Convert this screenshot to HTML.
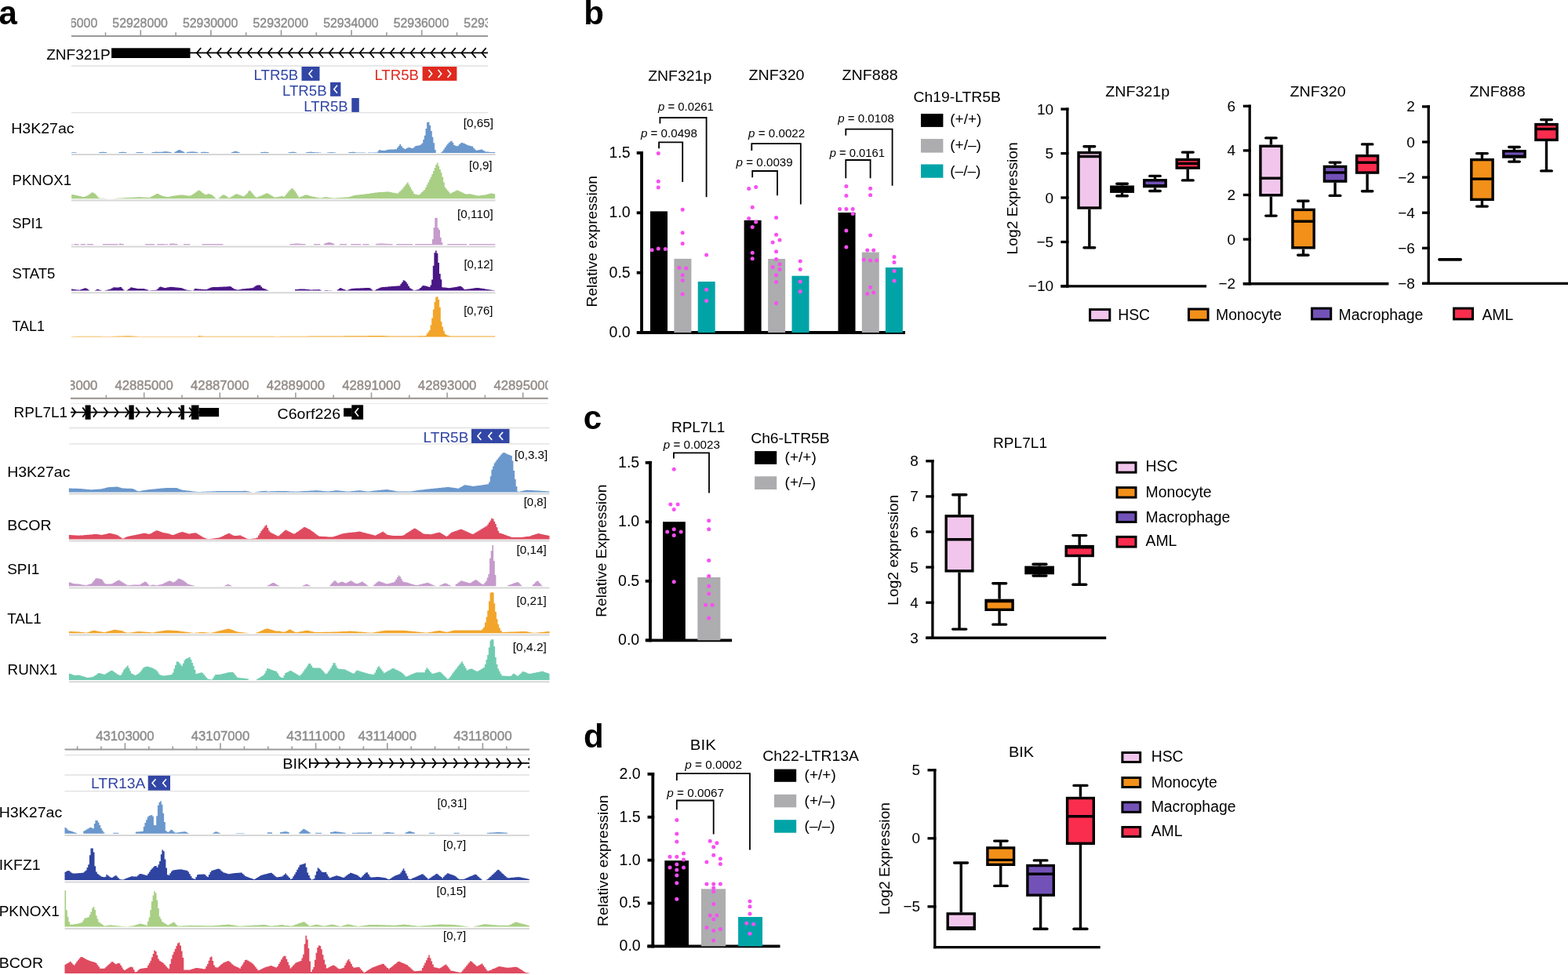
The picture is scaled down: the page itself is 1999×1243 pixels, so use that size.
<!DOCTYPE html>
<html><head><meta charset="utf-8"><title>Figure</title>
<style>
html,body{margin:0;padding:0;background:#fff;}
svg{display:block;}
text{font-family:"Liberation Sans", Arial, Helvetica, sans-serif;}
.rl{filter:blur(0.45px);}
</style></head><body>
<svg width="1999" height="1243" viewBox="0 0 1999 1243">
<rect width="1999" height="1243" fill="#fff"/>
<text x="-1.5" y="31" font-size="42" font-weight="bold">a</text>
<clipPath id="clip1"><rect x="91" y="0" width="531" height="60"/></clipPath><g clip-path="url(#clip1)"><text x="89" y="34.6" font-size="17.3" fill="#8c8c8c" text-anchor="middle" textLength="70.5" lengthAdjust="spacingAndGlyphs" class="rl" stroke="#8c8c8c" stroke-width="0.45">52926000</text><text x="178.6" y="34.6" font-size="17.3" fill="#8c8c8c" text-anchor="middle" textLength="70.5" lengthAdjust="spacingAndGlyphs" class="rl" stroke="#8c8c8c" stroke-width="0.45">52928000</text><text x="268.2" y="34.6" font-size="17.3" fill="#8c8c8c" text-anchor="middle" textLength="70.5" lengthAdjust="spacingAndGlyphs" class="rl" stroke="#8c8c8c" stroke-width="0.45">52930000</text><text x="357.8" y="34.6" font-size="17.3" fill="#8c8c8c" text-anchor="middle" textLength="70.5" lengthAdjust="spacingAndGlyphs" class="rl" stroke="#8c8c8c" stroke-width="0.45">52932000</text><text x="447.4" y="34.6" font-size="17.3" fill="#8c8c8c" text-anchor="middle" textLength="70.5" lengthAdjust="spacingAndGlyphs" class="rl" stroke="#8c8c8c" stroke-width="0.45">52934000</text><text x="537" y="34.6" font-size="17.3" fill="#8c8c8c" text-anchor="middle" textLength="70.5" lengthAdjust="spacingAndGlyphs" class="rl" stroke="#8c8c8c" stroke-width="0.45">52936000</text><text x="626.6" y="34.6" font-size="17.3" fill="#8c8c8c" text-anchor="middle" textLength="70.5" lengthAdjust="spacingAndGlyphs" class="rl" stroke="#8c8c8c" stroke-width="0.45">52938000</text></g><line x1="91" y1="46" x2="622" y2="46" stroke="#9a9a9a" stroke-width="2.2"/><line x1="134.5" y1="41.3" x2="134.5" y2="46" stroke="#9a9a9a" stroke-width="1.6"/><line x1="179.3" y1="38.2" x2="179.3" y2="46" stroke="#9a9a9a" stroke-width="1.6"/><line x1="224.1" y1="41.3" x2="224.1" y2="46" stroke="#9a9a9a" stroke-width="1.6"/><line x1="268.9" y1="38.2" x2="268.9" y2="46" stroke="#9a9a9a" stroke-width="1.6"/><line x1="313.7" y1="41.3" x2="313.7" y2="46" stroke="#9a9a9a" stroke-width="1.6"/><line x1="358.5" y1="38.2" x2="358.5" y2="46" stroke="#9a9a9a" stroke-width="1.6"/><line x1="403.3" y1="41.3" x2="403.3" y2="46" stroke="#9a9a9a" stroke-width="1.6"/><line x1="448.1" y1="38.2" x2="448.1" y2="46" stroke="#9a9a9a" stroke-width="1.6"/><line x1="492.9" y1="41.3" x2="492.9" y2="46" stroke="#9a9a9a" stroke-width="1.6"/><line x1="537.7" y1="38.2" x2="537.7" y2="46" stroke="#9a9a9a" stroke-width="1.6"/><line x1="582.5" y1="41.3" x2="582.5" y2="46" stroke="#9a9a9a" stroke-width="1.6"/><text x="59.2" y="76.2" font-size="19" textLength="81.6" lengthAdjust="spacingAndGlyphs">ZNF321P</text><rect x="142.1" y="61.3" width="100.4" height="12.7" fill="#000"/><line x1="242" y1="67.4" x2="622" y2="67.4" stroke="#000" stroke-width="1.8"/><path d="M256.2,61.1 L250.8,67.4 L256.2,73.7" fill="none" stroke="#000" stroke-width="1.7"/><path d="M269.18,61.1 L263.78,67.4 L269.18,73.7" fill="none" stroke="#000" stroke-width="1.7"/><path d="M282.16,61.1 L276.76,67.4 L282.16,73.7" fill="none" stroke="#000" stroke-width="1.7"/><path d="M295.14,61.1 L289.74,67.4 L295.14,73.7" fill="none" stroke="#000" stroke-width="1.7"/><path d="M308.12,61.1 L302.72,67.4 L308.12,73.7" fill="none" stroke="#000" stroke-width="1.7"/><path d="M321.1,61.1 L315.7,67.4 L321.1,73.7" fill="none" stroke="#000" stroke-width="1.7"/><path d="M334.08,61.1 L328.68,67.4 L334.08,73.7" fill="none" stroke="#000" stroke-width="1.7"/><path d="M347.06,61.1 L341.66,67.4 L347.06,73.7" fill="none" stroke="#000" stroke-width="1.7"/><path d="M360.04,61.1 L354.64,67.4 L360.04,73.7" fill="none" stroke="#000" stroke-width="1.7"/><path d="M373.02,61.1 L367.62,67.4 L373.02,73.7" fill="none" stroke="#000" stroke-width="1.7"/><path d="M386,61.1 L380.6,67.4 L386,73.7" fill="none" stroke="#000" stroke-width="1.7"/><path d="M398.98,61.1 L393.58,67.4 L398.98,73.7" fill="none" stroke="#000" stroke-width="1.7"/><path d="M411.96,61.1 L406.56,67.4 L411.96,73.7" fill="none" stroke="#000" stroke-width="1.7"/><path d="M424.94,61.1 L419.54,67.4 L424.94,73.7" fill="none" stroke="#000" stroke-width="1.7"/><path d="M437.92,61.1 L432.52,67.4 L437.92,73.7" fill="none" stroke="#000" stroke-width="1.7"/><path d="M450.9,61.1 L445.5,67.4 L450.9,73.7" fill="none" stroke="#000" stroke-width="1.7"/><path d="M463.88,61.1 L458.48,67.4 L463.88,73.7" fill="none" stroke="#000" stroke-width="1.7"/><path d="M476.86,61.1 L471.46,67.4 L476.86,73.7" fill="none" stroke="#000" stroke-width="1.7"/><path d="M489.84,61.1 L484.44,67.4 L489.84,73.7" fill="none" stroke="#000" stroke-width="1.7"/><path d="M502.82,61.1 L497.42,67.4 L502.82,73.7" fill="none" stroke="#000" stroke-width="1.7"/><path d="M515.8,61.1 L510.4,67.4 L515.8,73.7" fill="none" stroke="#000" stroke-width="1.7"/><path d="M528.78,61.1 L523.38,67.4 L528.78,73.7" fill="none" stroke="#000" stroke-width="1.7"/><path d="M541.76,61.1 L536.36,67.4 L541.76,73.7" fill="none" stroke="#000" stroke-width="1.7"/><path d="M554.74,61.1 L549.34,67.4 L554.74,73.7" fill="none" stroke="#000" stroke-width="1.7"/><path d="M567.72,61.1 L562.32,67.4 L567.72,73.7" fill="none" stroke="#000" stroke-width="1.7"/><path d="M580.7,61.1 L575.3,67.4 L580.7,73.7" fill="none" stroke="#000" stroke-width="1.7"/><path d="M593.68,61.1 L588.28,67.4 L593.68,73.7" fill="none" stroke="#000" stroke-width="1.7"/><path d="M606.66,61.1 L601.26,67.4 L606.66,73.7" fill="none" stroke="#000" stroke-width="1.7"/><path d="M619.64,61.1 L614.24,67.4 L619.64,73.7" fill="none" stroke="#000" stroke-width="1.7"/><line x1="91" y1="84" x2="622" y2="84" stroke="#e0e0e0" stroke-width="1.3"/><line x1="91" y1="143.7" x2="622" y2="143.7" stroke="#e0e0e0" stroke-width="1.3"/><text x="323.5" y="102" font-size="19" fill="#3246a6" textLength="56.8" lengthAdjust="spacingAndGlyphs">LTR5B</text><rect x="384.5" y="85" width="23" height="17.9" fill="#3246a6"/><path d="M398.2,88.9 L394,93.9 L398.2,98.9" fill="none" stroke="#fff" stroke-width="1.6"/><text x="359.9" y="122.4" font-size="19" fill="#3246a6" textLength="56.8" lengthAdjust="spacingAndGlyphs">LTR5B</text><rect x="421.1" y="104.9" width="13.3" height="17.9" fill="#3246a6"/><path d="M430,108.8 L425.8,113.8 L430,118.8" fill="none" stroke="#fff" stroke-width="1.6"/><text x="387.3" y="142" font-size="19" fill="#3246a6" textLength="56.4" lengthAdjust="spacingAndGlyphs">LTR5B</text><rect x="448.3" y="125" width="9.5" height="17.9" fill="#3246a6"/><text x="477.4" y="102" font-size="19" fill="#e0291f" textLength="56.5" lengthAdjust="spacingAndGlyphs">LTR5B</text><rect x="538.6" y="85" width="43.8" height="17.9" fill="#e0291f"/><path d="M546.5,88.9 L550.7,93.9 L546.5,98.9" fill="none" stroke="#fff" stroke-width="1.6"/><path d="M558.5,88.9 L562.7,93.9 L558.5,98.9" fill="none" stroke="#fff" stroke-width="1.6"/><path d="M570.5,88.9 L574.7,93.9 L570.5,98.9" fill="none" stroke="#fff" stroke-width="1.6"/><path d="M91.21 194.9V194.2H92.8V194.2H94.4V194.2H95.9V194.2H97.5V194.9ZM126.22 194.9V194.0H127.9V193.9H129.5V193.8H131.1V193.8H132.8V193.9H134.4V194.0H136.0V194.9ZM151.44 194.9V194.0H153.1V193.9H154.7V193.8H156.3V193.8H158.0V193.9H159.6V194.0H161.2V194.9ZM173.15 194.9V194.2H174.8V194.1H176.4V194.1H178.1V194.1H179.7V194.1H181.3V194.2H183.0V194.9ZM193.46 194.9V194.0H195.1V193.9H196.8V193.7H198.5V193.6H200.2V193.7H201.9V193.7H203.5V193.8H205.2V193.7H206.9V193.4H208.6V193.2H210.3V193.0H212.0V193.3H213.6V193.6H215.3V193.8H217.0V194.0H218.7V194.9ZM222.18 194.9V193.7H223.8V193.0H225.5V192.1H227.2V191.0H228.8V191.3H230.5V192.2H232.2V193.0H233.8V193.7H235.5V194.9ZM237.59 194.9V194.0H239.2V193.8H240.9V193.6H242.5V193.4H244.1V193.3H245.8V193.4H247.4V193.6H249.0V193.8H250.7V194.0H252.3V194.9ZM255.79 194.9V194.0H257.5V193.8H259.3V193.7H261.0V193.7H262.8V193.9H264.5V194.0H266.3V194.9ZM295.02 194.9V194.0H296.8V193.5H298.5V193.0H300.3V192.8H302.0V193.4H303.8V193.9H305.5V194.9ZM332.14 194.9V194.0H333.9V193.9H335.6V193.8H337.4V193.8H339.1V193.9H340.9V194.0H342.6V194.9ZM367.41 194.9V194.3H369.0V194.1H370.5V193.9H372.1V193.6H373.6V193.8H375.2V194.1H376.7V194.3H378.3V194.9ZM389.9 194.9V194.3H391.5V194.1H393.2V193.9H394.8V193.6H396.4V193.8H398.1V194.0H399.7V194.1H401.3V194.2H403.0V194.3H404.6V194.3H406.2V194.4H407.8V194.4H409.5V194.9ZM416.73 194.9V194.4H418.4V194.3H420.1V194.2H421.7V194.0H423.4V194.2H425.0V194.3H426.7V194.4H428.3V194.9ZM443.57 194.9V194.4H445.2V194.1H446.8V193.9H448.4V193.7H450.0V193.7H451.6V194.1H453.2V194.4H454.8V194.5H456.4V194.5H458.0V194.5H459.6V194.5H461.2V194.5H462.8V194.5H464.5V194.5H466.1V194.9ZM468.96 194.9V194.6H470.6V194.5H472.3V194.5H473.9V194.5H475.6V194.4H477.3V194.4H478.9V194.3H480.6V194.9ZM481.29 194.9V192.8H482.9V191.0H484.6V191.4H486.3V191.7H487.9V192.0H489.6V191.9H491.2V191.5H492.9V191.0H494.5V190.7H496.2V190.6H497.8V190.5H499.5V190.5H501.1V190.4H502.8V190.3H504.4V190.2H506.1V188.1H507.8V186.0H509.4V183.8H511.1V186.1H512.7V188.3H514.4V189.6H516.0V189.9H517.7V189.1H519.3V188.3H521.0V188.0H522.6V188.4H524.3V188.9H525.9V188.8H527.6V187.3H529.3V185.9H530.9V185.7H532.6V185.5H534.2V185.3H535.9V184.2H537.5V182.5H539.2V178.1H540.8V172.7H542.5V163.9H544.1V156.1H545.8V155.6H547.4V159.7H549.1V167.0H550.8V174.7H552.4V182.3H554.1V191.1H555.7V194.9ZM561.81 194.9V194.2H563.5V192.8H565.1V190.6H566.8V188.1H568.4V185.6H570.1V183.4H571.7V181.7H573.4V180.3H575.0V179.7H576.7V181.9H578.3V185.0H580.0V185.7H581.6V186.3H583.3V186.0H584.9V183.9H586.6V182.4H588.2V181.7H589.9V182.4H591.5V183.0H593.2V183.9H594.8V184.7H596.5V185.4H598.1V185.8H599.8V186.2H601.4V186.6H603.1V188.4H604.7V190.3H606.4V191.7H608.0V191.5H609.7V191.3H611.3V190.9H613.0V190.3H614.6V191.2H616.3V192.3H617.9V193.2H619.6V193.4H621.2V193.5H622.9V193.7H624.6V193.9H626.2V193.9H627.9V193.9H629.5V193.9H631.2V194.9Z" fill="#6a97cc"/><line x1="91" y1="197.1" x2="631.5" y2="197.1" stroke="#d7d7d7" stroke-width="2"/><text x="14.2" y="170.1" font-size="19" textLength="80.4" lengthAdjust="spacingAndGlyphs">H3K27ac</text><text x="629" y="161.8" font-size="14.5" text-anchor="end" textLength="38.3" lengthAdjust="spacingAndGlyphs">[0,65]</text><path d="M91.21 253.3V247.9H92.9V248.2H94.5V248.6H96.2V248.9H97.8V249.3H99.5V249.7H101.2V250.0H102.8V250.5H104.5V250.9H106.1V251.1H107.8V250.4H109.5V249.8H111.1V249.2H112.8V248.0H114.4V246.8H116.1V245.6H117.8V245.4H119.4V246.5H121.1V247.6H122.7V249.5H124.4V251.4H126.1V252.6H127.7V252.7H129.4V252.8H131.0V252.8H132.7V252.9H134.4V253.0H136.0V253.3ZM144.43 253.3V253.0H146.1V252.9H147.7V252.8H149.4V252.7H151.1V252.6H152.7V252.5H154.4V252.4H156.0V252.3H157.7V252.2H159.3V252.1H161.0V252.0H162.6V251.9H164.3V251.8H165.9V251.8H167.6V251.7H169.3V251.6H170.9V251.5H172.6V251.4H174.2V251.3H175.9V251.3H177.5V251.2H179.2V251.3H180.8V251.4H182.5V251.5H184.1V251.6H185.8V251.7H187.5V251.8H189.1V251.9H190.8V251.4H192.4V250.6H194.1V249.8H195.7V248.9H197.4V247.9H199.0V246.9H200.7V247.1H202.3V247.9H204.0V248.8H205.7V249.5H207.3V249.9H209.0V250.4H210.6V250.7H212.3V251.0H213.9V251.1H215.6V250.7H217.2V250.3H218.9V249.9H220.5V249.6H222.2V249.4H223.9V249.2H225.5V249.0H227.2V248.8H228.8V248.6H230.5V248.4H232.1V248.6H233.8V248.8H235.4V249.0H237.1V249.2H238.7V249.4H240.4V249.6H242.1V249.5H243.7V248.5H245.4V247.5H247.0V246.4H248.7V245.2H250.3V244.0H252.0V242.8H253.6V242.7H255.3V244.1H257.0V245.5H258.6V246.6H260.3V247.7H261.9V248.2H263.6V247.6H265.2V247.1H266.9V247.5H268.5V248.0H270.2V248.9H271.8V250.6H273.5V252.2H275.2V253.0H276.8V253.3ZM278.21 253.3V252.6H279.9V251.2H281.5V249.8H283.2V248.4H284.8V248.5H286.5V249.2H288.1V250.0H289.8V251.7H291.4V252.2H293.1V251.4H294.7V250.6H296.3V249.6H298.0V248.6H299.6V247.5H301.3V247.3H302.9V247.9H304.6V248.5H306.2V249.1H307.9V249.7H309.5V250.2H311.2V249.6H312.8V248.0H314.5V246.3H316.1V243.8H317.8V242.7H319.4V244.6H321.1V246.5H322.7V248.4H324.4V250.4H326.0V251.8H327.7V251.2H329.3V250.5H331.0V249.9H332.6V249.2H334.3V248.5H335.9V247.7H337.6V247.0H339.2V246.2H340.9V246.7H342.5V247.6H344.2V248.5H345.8V249.4H347.5V250.5H349.1V251.6H350.8V251.6H352.4V251.3H354.1V250.9H355.7V250.6H357.4V250.2H359.0V249.8H360.7V251.0H362.3V250.0H364.0V247.9H365.6V245.8H367.3V243.9H368.9V242.3H370.6V240.6H372.2V240.2H373.9V242.1H375.5V244.0H377.2V246.5H378.8V249.3H380.5V251.8H382.1V251.1H383.8V250.4H385.4V249.7H387.1V249.1H388.7V248.4H390.4V248.6H392.0V249.0H393.7V249.5H395.3V249.9H397.0V250.4H398.6V250.7H400.3V251.1H401.9V251.4H403.6V251.8H405.2V252.1H406.9V252.5H408.5V252.3H410.2V252.0H411.8V251.7H413.4V251.3H415.1V251.2H416.7V251.5H418.4V251.7H420.0V251.9H421.7V252.2H423.3V252.4H425.0V252.5H426.6V252.4H428.3V252.3H429.9V252.2H431.6V252.1H433.2V252.0H434.9V251.8H436.5V251.7H438.2V251.6H439.8V251.5H441.5V251.4H443.1V251.3H444.8V251.1H446.4V250.6H448.1V249.9H449.7V249.3H451.4V248.9H453.0V248.7H454.7V248.6H456.3V248.4H458.0V248.2H459.6V248.1H461.3V247.9H462.9V247.7H464.6V247.6H466.2V247.3H467.9V247.1H469.5V246.9H471.2V246.6H472.8V246.4H474.5V246.1H476.1V245.9H477.8V245.6H479.4V245.4H481.1V245.2H482.7V245.1H484.4V245.0H486.0V244.9H487.7V244.8H489.3V244.7H491.0V244.5H492.6V244.4H494.3V244.3H495.9V244.7H497.6V245.0H499.2V245.4H500.9V245.7H502.5V246.1H504.2V246.4H505.8V246.8H507.5V245.4H509.1V243.9H510.8V242.5H512.4V240.7H514.1V238.6H515.7V236.4H517.4V234.3H519.0V232.4H520.7V235.5H522.3V238.5H524.0V241.4H525.6V244.1H527.2V246.9H528.9V247.8H530.5V248.1H532.2V248.4H533.8V248.2H535.5V246.7H537.1V245.1H538.8V243.5H540.4V241.9H542.1V238.9H543.7V235.6H545.4V232.3H547.0V229.0H548.7V225.7H550.3V222.0H552.0V218.0H553.6V214.1H555.3V210.1H556.9V207.6H558.6V211.8H560.2V215.9H561.9V220.0H563.5V225.8H565.2V232.4H566.8V238.8H568.5V240.9H570.1V242.9H571.8V244.9H573.4V246.7H575.1V245.9H576.7V245.1H578.4V244.2H580.0V243.4H581.7V242.6H583.3V243.0H585.0V243.8H586.6V244.6H588.3V245.3H589.9V246.1H591.6V246.9H593.2V247.5H594.9V247.4H596.5V247.3H598.2V247.2H599.8V247.5H601.5V247.9H603.1V248.3H604.8V248.7H606.4V249.1H608.1V249.5H609.7V249.6H611.4V249.3H613.0V249.1H614.7V248.8H616.3V248.6H618.0V248.4H619.6V248.0H621.3V247.5H622.9V247.0H624.6V246.4H626.2V246.6H627.9V247.0H629.5V247.3H631.2V253.3Z" fill="#a8cf84"/><line x1="91" y1="255.6" x2="631.5" y2="255.6" stroke="#d7d7d7" stroke-width="2"/><text x="15.5" y="235.7" font-size="19" textLength="75.5" lengthAdjust="spacingAndGlyphs">PKNOX1</text><text x="627.6" y="216" font-size="14.5" text-anchor="end" textLength="29.6" lengthAdjust="spacingAndGlyphs">[0,9]</text><path d="M91.4 312.3V311.0H92.6V312.3ZM94.2 312.3V311.0H95.8V311.0H97.4V311.0H99.0V311.0H100.6V312.3ZM102.6 312.3V311.0H104.2V311.0H105.8V311.0H107.4V311.0H109.0V312.3ZM111 312.3V311.0H112.6V311.0H114.2V311.0H115.8V311.0H117.4V311.0H119.0V312.3ZM131 312.3V311.0H132.6V311.0H134.2V311.0H135.8V311.0H137.4V311.0H139.0V311.0H140.7V311.0H142.3V311.0H143.9V311.0H145.5V311.0H147.1V311.0H148.7V311.0H150.3V312.3ZM151.5 312.3V310.7H153.1V310.5H154.7V311.0H156.3V311.0H157.9V312.3ZM185 312.3V311.0H186.7V311.0H188.4V311.0H190.1V311.0H191.9V311.0H193.6V311.0H195.3V311.0H197.0V312.3ZM200.3 312.3V311.0H202.0V311.0H203.8V311.0H205.5V311.0H207.2V311.0H209.0V311.0H210.7V312.3ZM211.5 312.3V311.0H213.8V312.3ZM215.5 312.3V310.9H217.1V310.6H218.7V310.4H220.3V310.5H221.9V310.8H223.5V310.9H225.1V311.0H226.7V312.3ZM233.9 312.3V311.0H235.6V311.0H237.3V311.0H238.9V311.0H240.6V311.0H242.3V312.3ZM257.4 312.3V311.0H259.1V311.0H260.8V311.0H262.5V311.0H264.2V311.0H265.9V311.0H267.6V311.0H269.3V311.0H270.9V311.0H272.6V311.0H274.3V311.0H276.0V311.0H277.7V311.0H279.4V311.0H281.1V311.0H282.8V311.0H284.5V312.3ZM369.27 312.3V311.0H371.0V310.9H372.6V310.8H374.3V310.7H376.0V310.6H377.7V310.5H379.4V310.6H381.1V310.7H382.8V310.8H384.5V310.9H386.2V311.0H387.8V311.1H389.5V312.3ZM400.03 312.3V311.1H401.7V311.1H403.3V311.1H405.0V311.1H406.6V311.1H408.3V312.3ZM412.79 312.3V310.8H414.5V310.1H416.2V309.5H417.9V308.9H419.5V308.9H421.2V309.5H422.9V310.1H424.6V310.8H426.3V312.3ZM433.05 312.3V311.1H434.9V311.1H436.7V311.1H438.5V311.1H440.3V311.1H442.1V312.3ZM447.31 312.3V311.1H448.9V311.1H450.5V311.1H452.1V311.1H453.7V311.1H455.3V311.1H456.9V311.1H458.5V311.1H460.1V312.3ZM462.32 312.3V311.1H464.0V311.1H465.6V311.1H467.3V311.1H468.9V311.1H470.6V312.3ZM478.83 312.3V311.0H480.5V310.8H482.2V310.6H483.8V310.5H485.5V310.6H487.2V310.6H488.9V310.7H490.5V310.8H492.2V310.8H493.9V310.9H495.6V310.9H497.2V311.0H498.9V311.1H500.6V312.3ZM505.09 312.3V311.1H506.7V311.1H508.3V311.1H509.9V311.1H511.6V311.1H513.2V311.1H514.8V311.1H516.4V311.1H518.0V311.1H519.6V311.1H521.3V311.1H522.9V311.1H524.5V311.1H526.1V312.3ZM529.1 312.3V311.1H530.8V311.1H532.5V311.1H534.1V311.1H535.8V311.1H537.5V311.1H539.2V311.1H540.9V311.1H542.5V311.1H544.2V311.1H545.9V311.1H547.6V311.1H549.3V311.1H550.9V305.1H552.6V290.2H554.3V277.8H556.0V277.8H557.7V290.6H559.3V293.1H561.0V302.7H562.7V309.3H564.4V312.3ZM570.38 312.3V311.1H572.0V311.1H573.7V311.1H575.3V311.1H577.0V311.1H578.6V311.1H580.3V311.1H581.9V311.1H583.6V311.1H585.2V311.1H586.9V311.1H588.5V311.1H590.2V311.1H591.8V311.1H593.5V311.1H595.1V312.3ZM598.14 312.3V311.1H599.8V311.1H601.4V311.1H603.1V311.1H604.7V311.1H606.4V311.1H608.0V311.1H609.7V311.1H611.3V311.1H613.0V311.1H614.7V311.1H616.3V311.1H618.0V311.1H619.6V311.1H621.3V311.1H622.9V311.1H624.6V311.1H626.2V311.1H627.9V311.1H629.5V311.1H631.2V312.3Z" fill="#c59bcc"/><line x1="91" y1="314.5" x2="631.5" y2="314.5" stroke="#d7d7d7" stroke-width="2"/><text x="15.4" y="290.9" font-size="19" textLength="39.2" lengthAdjust="spacingAndGlyphs">SPI1</text><text x="628.7" y="277.5" font-size="14.5" text-anchor="end" textLength="45.6" lengthAdjust="spacingAndGlyphs">[0,110]</text><path d="M91.05 370.6V368.6H92.7V368.8H94.3V369.0H95.9V369.2H97.6V369.4H99.2V369.6H100.8V369.7H102.4V369.1H104.1V368.5H105.7V367.9H107.3V367.3H108.9V367.6H110.6V368.2H112.2V369.6H113.8V370.6ZM120.82 370.6V370.1H122.6V369.0H124.3V368.8H126.1V369.4H127.8V370.0H129.6V370.6ZM132.2 370.6V370.4H133.8V370.1H135.5V369.7H137.1V369.3H138.8V369.0H140.4V368.3H142.1V367.5H143.7V366.6H145.3V366.3H147.0V366.5H148.6V366.6H150.3V366.6H151.9V366.1H153.5V366.0H155.2V367.7H156.8V369.4H158.5V370.6ZM161.09 370.6V370.0H162.7V368.8H164.4V367.7H166.0V366.5H167.7V366.5H169.3V366.9H171.0V367.2H172.6V367.6H174.3V368.0H175.9V368.0H177.6V368.0H179.2V368.0H180.9V368.0H182.5V368.0H184.2V368.4H185.8V369.0H187.5V369.6H189.1V370.2H190.8V370.2H192.4V370.1H194.1V370.0H195.7V369.9H197.3V369.8H199.0V369.5H200.6V367.9H202.3V366.2H203.9V365.6H205.6V366.0H207.2V366.5H208.9V367.0H210.5V366.9H212.2V366.5H213.8V366.2H215.5V365.9H217.1V365.8H218.8V365.9H220.4V366.1H222.1V366.3H223.7V366.4H225.4V366.6H227.0V366.8H228.7V366.9H230.3V367.1H232.0V367.7H233.6V368.3H235.3V369.0H236.9V369.6H238.5V369.8H240.2V369.9H241.8V370.1H243.5V370.2H245.1V370.6ZM246.02 370.6V369.8H247.7V368.1H249.3V368.1H251.0V368.3H252.7V368.4H254.3V368.5H256.0V368.7H257.6V368.8H259.3V369.0H261.0V369.1H262.6V368.9H264.3V368.2H265.9V367.4H267.6V366.7H269.3V366.2H270.9V366.1H272.6V366.1H274.2V366.0H275.9V366.0H277.6V365.9H279.2V365.8H280.9V365.8H282.5V365.7H284.2V365.6H285.9V365.5H287.5V365.4H289.2V365.3H290.8V365.2H292.5V365.1H294.2V365.7H295.8V367.1H297.5V368.2H299.2V368.7H300.8V369.3H302.5V369.6H304.1V369.2H305.8V368.9H307.5V368.5H309.1V368.3H310.8V368.2H312.4V368.0H314.1V367.8H315.8V367.7H317.4V367.5H319.1V367.3H320.7V367.2H322.4V366.4H324.1V365.3H325.7V364.2H327.4V363.6H329.0V363.6H330.7V363.6H332.4V365.4H334.0V367.3H335.7V367.9H337.3V368.6H339.0V369.3H340.7V369.9H342.3V370.6ZM376.02 370.6V369.0H377.7V368.9H379.3V368.8H381.0V368.6H382.6V368.5H384.2V368.4H385.9V368.5H387.5V368.6H389.2V368.8H390.8V368.9H392.5V369.1H394.1V369.2H395.7V369.4H397.4V369.4H399.0V369.3H400.7V369.3H402.3V369.2H404.0V369.2H405.6V369.1H407.3V369.4H408.9V370.2H410.5V370.6ZM413.54 370.6V370.0H415.2V370.1H416.8V370.1H418.4V370.2H420.0V370.2H421.7V370.3H423.3V370.6ZM430.05 370.6V369.2H431.7V367.9H433.3V367.0H435.0V367.7H436.6V368.4H438.2V369.0H439.9V369.7H441.5V370.2H443.1V369.5H444.8V368.9H446.4V368.2H448.0V367.9H449.7V367.8H451.3V367.7H452.9V367.6H454.6V367.5H456.2V367.5H457.8V367.4H459.5V367.3H461.1V367.2H462.7V367.2H464.4V367.1H466.0V367.0H467.7V367.0H469.3V366.9H470.9V367.2H472.6V368.4H474.2V369.7H475.8V370.6ZM477.33 370.6V369.9H479.0V369.1H480.6V368.3H482.3V367.6H483.9V366.8H485.6V366.3H487.3V366.1H488.9V366.0H490.6V365.8H492.2V365.7H493.9V365.5H495.5V365.3H497.2V365.2H498.8V365.1H500.5V364.9H502.1V364.8H503.8V364.7H505.4V364.6H507.1V364.4H508.8V364.3H510.4V362.0H512.1V359.7H513.7V357.2H515.4V358.0H517.0V359.4H518.7V361.7H520.3V364.7H522.0V367.2H523.6V368.2H525.3V369.3H526.9V370.3H528.6V369.9H530.3V369.6H531.9V369.3H533.6V368.4H535.2V367.0H536.9V365.5H538.5V364.1H540.2V364.2H541.8V364.6H543.5V365.0H545.1V365.4H546.8V365.9H548.5V363.4H550.1V356.4H551.8V338.7H553.4V322.2H555.1V319.6H556.7V323.0H558.4V334.9H560.0V349.1H561.7V356.3H563.3V366.2H565.0V366.4H566.6V366.6H568.3V366.8H570.0V367.1H571.6V367.3H573.3V367.1H574.9V366.8H576.6V366.5H578.2V366.3H579.9V366.0H581.5V365.7H583.2V365.3H584.8V365.0H586.5V364.7H588.2V365.9H589.8V367.6H591.5V369.1H593.1V368.9H594.8V368.6H596.4V368.4H598.1V368.2H599.7V368.0H601.4V367.7H603.0V367.5H604.7V367.3H606.3V367.0H608.0V366.9H609.7V367.1H611.3V367.4H613.0V367.6H614.6V367.9H616.3V368.1H617.9V368.4H619.6V368.7H621.2V368.9H622.9V369.2H624.5V369.4H626.2V369.7H627.9V369.9H629.5V370.2H631.2V370.6Z" fill="#4a1786"/><line x1="91" y1="373.2" x2="631.5" y2="373.2" stroke="#d7d7d7" stroke-width="2"/><text x="15.4" y="354.8" font-size="19" textLength="55" lengthAdjust="spacingAndGlyphs">STAT5</text><text x="628.7" y="341.8" font-size="14.5" text-anchor="end" textLength="37.3" lengthAdjust="spacingAndGlyphs">[0,12]</text><path d="M91.05 429.4V428.9H92.7V428.9H94.4V428.9H96.0V428.8H97.7V428.8H99.3V428.8H101.0V428.8H102.6V428.8H104.3V428.8H105.9V428.8H107.6V428.8H109.2V428.8H110.9V428.8H112.5V428.8H114.2V428.7H115.8V428.7H117.5V428.7H119.1V428.7H120.8V428.7H122.4V428.7H124.1V428.8H125.7V428.8H127.4V428.8H129.0V428.9H130.7V428.9H132.3V429.0H134.0V429.0H135.6V429.0H137.3V429.0H139.0V428.9H140.6V428.9H142.3V428.8H143.9V428.8H145.6V428.7H147.2V428.7H148.9V428.6H150.5V428.6H152.2V428.5H153.8V428.5H155.5V428.4H157.1V428.4H158.8V428.3H160.4V428.3H162.1V428.2H163.7V428.2H165.4V428.3H167.0V428.4H168.7V428.5H170.3V428.6H172.0V428.7H173.6V428.8H175.3V428.9H176.9V428.9H178.6V428.9H180.2V428.9H181.9V428.9H183.5V428.9H185.2V428.9H186.9V428.9H188.5V428.9H190.2V428.9H191.8V428.9H193.5V428.9H195.1V428.9H196.8V428.9H198.4V428.9H200.1V428.9H201.7V428.9H203.4V428.9H205.0V428.9H206.7V428.9H208.3V428.9H210.0V428.9H211.6V428.9H213.3V428.9H214.9V428.9H216.6V428.9H218.2V428.9H219.9V428.9H221.5V428.9H223.2V428.9H224.8V428.9H226.5V428.9H228.1V428.9H229.8V428.9H231.4V428.9H233.1V428.9H234.8V428.9H236.4V428.9H238.1V428.9H239.7V428.9H241.4V428.9H243.0V428.9H244.7V428.9H246.3V428.9H248.0V428.9H249.6V428.9H251.3V428.9H252.9V428.1H254.6V428.2H256.2V428.4H257.9V428.6H259.5V428.7H261.2V428.7H262.8V428.7H264.5V428.7H266.1V428.7H267.8V428.7H269.4V428.7H271.1V428.7H272.7V428.7H274.4V428.7H276.0V428.7H277.7V428.7H279.3V428.7H281.0V428.7H282.7V428.7H284.3V428.7H286.0V428.7H287.6V428.7H289.3V428.7H290.9V428.7H292.6V428.7H294.2V428.7H295.9V428.7H297.5V428.7H299.2V428.7H300.8V428.7H302.5V428.7H304.1V428.8H305.8V428.8H307.4V428.8H309.1V428.8H310.7V428.8H312.4V428.8H314.0V428.8H315.7V428.8H317.3V428.8H319.0V428.8H320.6V428.8H322.3V428.8H323.9V428.8H325.6V428.8H327.2V428.8H328.9V428.8H330.5V428.8H332.2V428.8H333.9V428.8H335.5V428.8H337.2V428.8H338.8V428.8H340.5V428.8H342.1V428.8H343.8V428.8H345.4V428.8H347.1V428.8H348.7V428.8H350.4V428.9H352.0V428.9H353.7V428.9H355.3V428.9H357.0V428.8H358.6V428.8H360.3V428.8H361.9V428.8H363.6V428.8H365.2V428.8H366.9V428.8H368.5V428.8H370.2V428.8H371.8V428.8H373.5V428.8H375.1V428.8H376.8V428.8H378.4V428.7H380.1V428.7H381.8V428.7H383.4V428.7H385.1V428.7H386.7V428.7H388.4V428.7H390.0V428.7H391.7V428.7H393.3V428.6H395.0V428.6H396.6V428.6H398.3V428.6H399.9V428.6H401.6V428.6H403.2V428.6H404.9V428.6H406.5V428.6H408.2V428.5H409.8V428.5H411.5V428.5H413.1V428.5H414.8V428.5H416.4V428.5H418.1V428.5H419.7V428.5H421.4V428.5H423.0V428.4H424.7V428.4H426.3V428.4H428.0V428.4H429.7V428.4H431.3V428.4H433.0V428.4H434.6V428.4H436.3V428.4H437.9V428.4H439.6V428.3H441.2V428.3H442.9V428.3H444.5V428.3H446.2V428.3H447.8V428.3H449.5V428.3H451.1V428.3H452.8V428.3H454.4V428.2H456.1V428.2H457.7V428.2H459.4V428.2H461.0V428.2H462.7V428.2H464.3V428.2H466.0V428.2H467.6V428.2H469.3V428.1H470.9V428.1H472.6V428.1H474.2V428.1H475.9V428.1H477.6V428.1H479.2V428.1H480.9V428.1H482.5V428.1H484.2V428.1H485.8V428.1H487.5V428.1H489.1V428.2H490.8V428.2H492.4V428.3H494.1V428.3H495.7V428.4H497.4V428.4H499.0V428.5H500.7V428.5H502.3V428.6H504.0V428.6H505.6V428.6H507.3V428.6H508.9V428.6H510.6V428.6H512.2V428.6H513.9V428.6H515.5V428.5H517.2V428.5H518.8V428.5H520.5V428.5H522.1V428.5H523.8V428.4H525.5V428.4H527.1V428.4H528.8V428.4H530.4V428.4H532.1V428.3H533.7V428.3H535.4V428.3H537.0V428.3H538.7V428.2H540.3V428.2H542.0V427.9H543.6V425.6H545.3V423.2H546.9V420.9H548.6V414.5H550.2V405.4H551.9V394.5H553.5V385.0H555.2V378.7H556.8V378.2H558.5V381.9H560.1V391.7H561.8V409.9H563.4V416.5H565.1V421.7H566.7V425.4H568.4V427.1H570.0V427.6H571.7V428.1H573.4V428.6H575.0V428.6H576.7V428.6H578.3V428.6H580.0V428.6H581.6V428.6H583.3V428.6H584.9V428.6H586.6V428.6H588.2V428.6H589.9V428.6H591.5V428.6H593.2V428.6H594.8V428.6H596.5V428.6H598.1V428.6H599.8V428.6H601.4V428.6H603.1V428.6H604.7V428.6H606.4V428.6H608.0V428.6H609.7V428.6H611.3V428.6H613.0V428.6H614.6V428.6H616.3V428.6H617.9V428.6H619.6V428.6H621.2V428.6H622.9V428.6H624.6V428.6H626.2V428.6H627.9V428.6H629.5V428.6H631.2V429.4Z" fill="#f2a52a"/><text x="15.4" y="422.2" font-size="19" textLength="41.5" lengthAdjust="spacingAndGlyphs">TAL1</text><text x="628.5" y="400.6" font-size="14.5" text-anchor="end" textLength="37.3" lengthAdjust="spacingAndGlyphs">[0,76]</text><clipPath id="clip2"><rect x="90" y="470" width="608.7" height="40"/></clipPath><g clip-path="url(#clip2)"><text x="87.1" y="496.8" font-size="17.3" fill="#938c88" text-anchor="middle" textLength="74.5" lengthAdjust="spacingAndGlyphs" class="rl" stroke="#938c88" stroke-width="0.45">42883000</text><text x="183.7" y="496.8" font-size="17.3" fill="#938c88" text-anchor="middle" textLength="74.5" lengthAdjust="spacingAndGlyphs" class="rl" stroke="#938c88" stroke-width="0.45">42885000</text><text x="280.3" y="496.8" font-size="17.3" fill="#938c88" text-anchor="middle" textLength="74.5" lengthAdjust="spacingAndGlyphs" class="rl" stroke="#938c88" stroke-width="0.45">42887000</text><text x="376.9" y="496.8" font-size="17.3" fill="#938c88" text-anchor="middle" textLength="74.5" lengthAdjust="spacingAndGlyphs" class="rl" stroke="#938c88" stroke-width="0.45">42889000</text><text x="473.5" y="496.8" font-size="17.3" fill="#938c88" text-anchor="middle" textLength="74.5" lengthAdjust="spacingAndGlyphs" class="rl" stroke="#938c88" stroke-width="0.45">42891000</text><text x="570.1" y="496.8" font-size="17.3" fill="#938c88" text-anchor="middle" textLength="74.5" lengthAdjust="spacingAndGlyphs" class="rl" stroke="#938c88" stroke-width="0.45">42893000</text><text x="666.7" y="496.8" font-size="17.3" fill="#938c88" text-anchor="middle" textLength="74.5" lengthAdjust="spacingAndGlyphs" class="rl" stroke="#938c88" stroke-width="0.45">42895000</text></g><line x1="90" y1="507.9" x2="698.7" y2="507.9" stroke="#a39c97" stroke-width="2.2"/><line x1="135.4" y1="503.6" x2="135.4" y2="508" stroke="#a39c97" stroke-width="1.6"/><line x1="183.7" y1="500.4" x2="183.7" y2="508" stroke="#a39c97" stroke-width="1.6"/><line x1="232" y1="503.6" x2="232" y2="508" stroke="#a39c97" stroke-width="1.6"/><line x1="280.3" y1="500.4" x2="280.3" y2="508" stroke="#a39c97" stroke-width="1.6"/><line x1="328.6" y1="503.6" x2="328.6" y2="508" stroke="#a39c97" stroke-width="1.6"/><line x1="376.9" y1="500.4" x2="376.9" y2="508" stroke="#a39c97" stroke-width="1.6"/><line x1="425.2" y1="503.6" x2="425.2" y2="508" stroke="#a39c97" stroke-width="1.6"/><line x1="473.5" y1="500.4" x2="473.5" y2="508" stroke="#a39c97" stroke-width="1.6"/><line x1="521.8" y1="503.6" x2="521.8" y2="508" stroke="#a39c97" stroke-width="1.6"/><line x1="570.1" y1="500.4" x2="570.1" y2="508" stroke="#a39c97" stroke-width="1.6"/><line x1="618.4" y1="503.6" x2="618.4" y2="508" stroke="#a39c97" stroke-width="1.6"/><line x1="666.7" y1="500.4" x2="666.7" y2="508" stroke="#a39c97" stroke-width="1.6"/><line x1="90" y1="514.5" x2="698.7" y2="514.5" stroke="#e6e6e6" stroke-width="1.2"/><text x="17.6" y="532.1" font-size="19" textLength="68.5" lengthAdjust="spacingAndGlyphs">RPL7L1</text><line x1="90" y1="525.6" x2="254" y2="525.6" stroke="#000" stroke-width="1.9"/><path d="M91.7,519.5 L96.3,525.6 L91.7,531.7" fill="none" stroke="#000" stroke-width="1.9"/><path d="M105.3,519.5 L109.9,525.6 L105.3,531.7" fill="none" stroke="#000" stroke-width="1.9"/><path d="M118.9,519.5 L123.5,525.6 L118.9,531.7" fill="none" stroke="#000" stroke-width="1.9"/><path d="M132.5,519.5 L137.1,525.6 L132.5,531.7" fill="none" stroke="#000" stroke-width="1.9"/><path d="M146.1,519.5 L150.7,525.6 L146.1,531.7" fill="none" stroke="#000" stroke-width="1.9"/><path d="M159.7,519.5 L164.3,525.6 L159.7,531.7" fill="none" stroke="#000" stroke-width="1.9"/><path d="M173.3,519.5 L177.9,525.6 L173.3,531.7" fill="none" stroke="#000" stroke-width="1.9"/><path d="M186.9,519.5 L191.5,525.6 L186.9,531.7" fill="none" stroke="#000" stroke-width="1.9"/><path d="M200.5,519.5 L205.1,525.6 L200.5,531.7" fill="none" stroke="#000" stroke-width="1.9"/><path d="M214.1,519.5 L218.7,525.6 L214.1,531.7" fill="none" stroke="#000" stroke-width="1.9"/><path d="M227.7,519.5 L232.3,525.6 L227.7,531.7" fill="none" stroke="#000" stroke-width="1.9"/><path d="M241.3,519.5 L245.9,525.6 L241.3,531.7" fill="none" stroke="#000" stroke-width="1.9"/><rect x="108.6" y="516.5" width="7" height="18.3" fill="#000"/><rect x="164.4" y="516.5" width="6.3" height="18.3" fill="#000"/><rect x="230.5" y="516.5" width="4.5" height="18.3" fill="#000"/><rect x="244" y="516.5" width="9.5" height="18.3" fill="#000"/><rect x="253.5" y="520" width="25.6" height="11.2" fill="#000"/><text x="353.6" y="534.4" font-size="19" textLength="80.5" lengthAdjust="spacingAndGlyphs">C6orf226</text><rect x="438.1" y="520.3" width="10.5" height="10.8" fill="#000"/><rect x="448.3" y="516.3" width="14.8" height="18.5" fill="#000"/><path d="M457,520.3 L452.8,525.5 L457,530.7" fill="none" stroke="#fff" stroke-width="1.6"/><line x1="88" y1="545.5" x2="700.5" y2="545.5" stroke="#e0e0e0" stroke-width="1.3"/><text x="539.6" y="563.5" font-size="19" fill="#3246a6" textLength="57.8" lengthAdjust="spacingAndGlyphs">LTR5B</text><rect x="601" y="546.8" width="48.5" height="18.2" fill="#3246a6"/><path d="M613.3,550.9 L608.9,555.9 L613.3,560.9" fill="none" stroke="#fff" stroke-width="1.6"/><path d="M627.2,550.9 L622.8,555.9 L627.2,560.9" fill="none" stroke="#fff" stroke-width="1.6"/><path d="M641.1,550.9 L636.7,555.9 L641.1,560.9" fill="none" stroke="#fff" stroke-width="1.6"/><line x1="88" y1="565.9" x2="700.5" y2="565.9" stroke="#e0e0e0" stroke-width="1.3"/><path d="M87.88 627.4V622.6H89.5V622.6H91.2V622.7H92.8V622.7H94.5V622.7H96.1V622.8H97.7V622.8H99.4V622.9H101.0V623.0H102.7V623.1H104.3V623.3H106.0V623.4H107.6V623.6H109.3V623.7H110.9V623.9H112.6V624.0H114.2V624.2H115.8V624.3H117.5V624.2H119.1V624.1H120.8V623.9H122.4V623.8H124.1V623.7H125.7V623.5H127.4V623.4H129.0V623.2H130.6V622.8H132.3V622.4H133.9V622.0H135.6V621.6H137.2V621.2H138.9V621.0H140.5V621.0H142.2V620.9H143.8V620.8H145.4V620.7H147.1V620.6H148.7V620.6H150.4V621.0H152.0V621.5H153.7V621.9H155.3V622.4H157.0V622.6H158.6V622.6H160.3V622.7H161.9V622.7H163.5V622.8H165.2V622.8H166.8V622.9H168.5V622.9H170.1V623.7H171.8V624.6H173.4V625.4H175.1V626.2H176.7V626.3H178.3V626.0H180.0V625.6H181.6V625.3H183.3V625.0H184.9V624.7H186.6V624.5H188.2V624.3H189.9V624.1H191.5V623.9H193.2V623.7H194.8V623.5H196.4V623.4H198.1V623.2H199.7V623.0H201.4V622.9H203.0V622.8H204.7V622.6H206.3V622.5H208.0V622.3H209.6V622.2H211.2V622.0H212.9V622.0H214.5V622.0H216.2V622.0H217.8V622.0H219.5V622.0H221.1V622.0H222.8V622.0H224.4V622.0H226.0V622.7H227.7V623.3H229.3V623.9H231.0V624.5H232.6V624.8H234.3V625.0H235.9V625.2H237.6V625.4H239.2V625.6H240.9V625.8H242.5V626.0H244.1V626.2H245.8V626.4H247.4V626.6H249.1V626.8H250.7V627.0H252.4V627.0H254.0V626.9H255.7V626.9H257.3V626.8H258.9V626.8H260.6V626.7H262.2V626.6H263.9V626.6H265.5V626.5H267.2V626.4H268.8V626.4H270.5V626.3H272.1V626.2H273.7V626.2H275.4V626.1H277.0V626.0H278.7V626.0H280.3V626.0H282.0V626.0H283.6V626.0H285.3V626.0H286.9V626.0H288.6V626.1H290.2V626.1H291.8V626.1H293.5V626.1H295.1V626.1H296.8V626.1H298.4V626.1H300.1V626.1H301.7V626.0H303.4V626.0H305.0V625.9H306.6V625.9H308.3V625.9H309.9V625.8H311.6V625.8H313.2V625.9H314.9V626.2H316.5V626.6H318.2V626.9H319.8V627.2H321.4V627.4ZM325.05 627.4V627.3H326.7V627.0H328.3V626.8H330.0V626.5H331.6V626.2H333.3V626.1H334.9V626.0H336.6V625.9H338.2V625.8H339.9V626.5H341.5V626.4H343.2V626.4H344.8V626.3H346.5V626.3H348.1V626.2H349.8V626.2H351.4V626.1H353.0V626.1H354.7V626.1H356.3V626.0H358.0V626.0H359.6V625.9H361.3V626.0H362.9V626.1H364.6V626.1H366.2V626.2H367.9V626.3H369.5V626.4H371.2V626.4H372.8V626.5H374.5V626.6H376.1V626.7H377.8V626.6H379.4V626.5H381.0V626.4H382.7V626.3H384.3V626.2H386.0V626.1H387.6V626.0H389.3V626.0H390.9V625.9H392.6V625.8H394.2V625.7H395.9V625.6H397.5V625.5H399.2V625.4H400.8V625.3H402.5V625.3H404.1V625.2H405.7V625.4H407.4V625.5H409.0V625.7H410.7V625.9H412.3V626.0H414.0V626.2H415.6V626.3H417.3V626.4H418.9V626.2H420.6V626.0H422.2V625.9H423.9V625.7H425.5V625.5H427.2V625.3H428.8V625.3H430.5V625.4H432.1V625.6H433.7V625.8H435.4V625.9H437.0V626.1H438.7V626.2H440.3V626.4H442.0V626.6H443.6V626.6H445.3V626.4H446.9V626.3H448.6V626.1H450.2V625.9H451.9V625.8H453.5V625.6H455.2V625.4H456.8V625.3H458.4V625.3H460.1V625.5H461.7V625.7H463.4V625.9H465.0V626.2H466.7V626.4H468.3V626.6H470.0V626.5H471.6V626.3H473.3V626.1H474.9V625.8H476.6V625.6H478.2V625.4H479.9V625.2H481.5V625.0H483.2V624.9H484.8V624.8H486.4V624.6H488.1V624.5H489.7V624.3H491.4V624.2H493.0V624.1H494.7V624.4H496.3V624.7H498.0V625.0H499.6V625.3H501.3V625.6H502.9V625.9H504.6V626.3H506.2V626.5H507.9V626.5H509.5V626.5H511.1V626.5H512.8V626.6H514.4V626.6H516.1V626.6H517.7V626.6H519.4V626.6H521.0V626.6H522.7V626.4H524.3V626.2H526.0V625.9H527.6V625.7H529.3V625.5H530.9V625.3H532.6V625.1H534.2V624.8H535.9V624.6H537.5V624.4H539.1V624.2H540.8V624.0H542.4V623.7H544.1V623.6H545.7V623.4H547.4V623.2H549.0V623.1H550.7V622.9H552.3V622.7H554.0V622.6H555.6V622.4H557.3V622.2H558.9V622.1H560.6V621.9H562.2V621.8H563.8V621.6H565.5V621.4H567.1V621.3H568.8V621.1H570.4V620.9H572.1V621.1H573.7V621.4H575.4V621.6H577.0V621.8H578.7V622.1H580.3V622.3H582.0V622.5H583.6V622.7H585.3V621.8H586.9V620.9H588.6V620.0H590.2V619.0H591.8V618.2H593.5V618.5H595.1V618.8H596.8V619.0H598.4V619.3H600.1V619.6H601.7V619.9H603.4V619.8H605.0V619.6H606.7V619.4H608.3V619.1H610.0V618.9H611.6V618.7H613.3V618.5H614.9V618.2H616.5V618.0H618.2V617.8H619.8V617.6H621.5V617.3H623.1V614.5H624.8V607.3H626.4V598.7H628.1V594.6H629.7V590.5H631.4V588.2H633.0V586.0H634.7V583.8H636.3V581.7H638.0V579.7H639.6V578.0H641.3V576.9H642.9V577.2H644.5V578.2H646.2V579.1H647.8V579.8H649.5V580.3H651.1V580.9H652.8V587.6H654.4V600.0H656.1V611.0H657.7V620.1H659.4V626.6H661.0V626.9H662.7V626.5H664.3V626.1H666.0V625.7H667.6V625.3H669.2V624.9H670.9V624.7H672.5V624.8H674.2V624.9H675.8V625.0H677.5V625.1H679.1V625.2H680.8V625.3H682.4V625.4H684.1V625.5H685.7V625.6H687.4V625.7H689.0V625.8H690.7V625.9H692.3V626.0H694.0V626.1H695.6V626.2H697.2V626.3H698.9V626.4H700.5V627.4Z" fill="#6a97cc"/><line x1="88" y1="629.5" x2="700.5" y2="629.5" stroke="#d7d7d7" stroke-width="2"/><text x="9.2" y="607.8" font-size="19" textLength="80.2" lengthAdjust="spacingAndGlyphs">H3K27ac</text><text x="698.1" y="584.5" font-size="14.5" text-anchor="end" textLength="42" lengthAdjust="spacingAndGlyphs">[0,3.3]</text><path d="M87.88 687.4V682.0H89.5V682.1H91.2V682.2H92.8V682.3H94.5V682.4H96.1V682.5H97.8V682.6H99.4V682.7H101.1V682.6H102.7V682.5H104.4V682.4H106.0V682.2H107.7V682.1H109.3V681.9H111.0V681.8H112.7V681.7H114.3V681.5H116.0V681.4H117.6V681.3H119.3V681.1H120.9V681.0H122.6V681.1H124.2V681.3H125.9V681.6H127.5V681.8H129.2V681.9H130.8V681.6H132.5V681.2H134.1V680.9H135.8V680.5H137.4V680.1H139.1V679.8H140.7V679.9H142.4V680.4H144.0V680.8H145.7V681.2H147.3V681.7H149.0V682.2H150.6V683.3H152.3V684.5H153.9V685.6H155.6V686.7H157.2V686.2H158.9V685.3H160.5V684.5H162.2V684.0H163.8V683.6H165.5V683.3H167.1V682.9H168.8V682.6H170.4V682.2H172.1V681.9H173.8V681.6H175.4V681.2H177.1V680.9H178.7V680.5H180.4V680.2H182.0V679.8H183.7V679.8H185.3V680.1H187.0V680.4H188.6V680.7H190.3V680.8H191.9V679.9H193.6V679.0H195.2V678.1H196.9V677.2H198.5V676.3H200.2V676.5H201.8V677.1H203.5V677.7H205.1V678.3H206.8V678.9H208.4V679.2H210.1V679.5H211.7V679.8H213.4V680.2H215.0V680.5H216.7V681.3H218.3V682.1H220.0V682.0H221.6V681.4H223.3V680.8H224.9V680.2H226.6V679.6H228.2V679.0H229.9V678.4H231.6V677.9H233.2V678.4H234.9V678.9H236.5V679.4H238.2V679.9H239.8V680.4H241.5V680.4H243.1V680.1H244.8V679.8H246.4V679.5H248.1V679.2H249.7V679.8H251.4V680.8H253.0V681.8H254.7V682.8H256.3V683.8H258.0V684.7H259.6V685.5H261.3V686.2H262.9V686.8H264.6V687.2H266.2V687.1H267.9V687.0H269.5V686.8H271.2V686.5H272.8V686.3H274.5V686.0H276.1V685.7H277.8V685.4H279.4V685.2H281.1V684.6H282.7V683.7H284.4V682.9H286.0V682.1H287.7V681.3H289.3V680.4H291.0V679.7H292.7V680.5H294.3V681.4H296.0V682.2H297.6V683.0H299.3V683.1H300.9V682.9H302.6V682.7H304.2V682.5H305.9V682.6H307.5V683.5H309.2V684.3H310.8V685.1H312.5V685.9H314.1V686.8H315.8V687.0H317.4V687.2H319.1V687.1H320.7V686.8H322.4V686.6H324.0V686.4H325.7V686.1H327.3V685.3H329.0V682.5H330.6V679.8H332.3V677.0H333.9V674.9H335.6V672.8H337.2V670.6H338.9V669.3H340.5V672.9H342.2V676.6H343.8V678.6H345.5V679.5H347.1V680.3H348.8V681.1H350.4V681.9H352.1V682.8H353.8V683.6H355.4V682.4H357.1V680.9H358.7V679.4H360.4V678.0H362.0V676.5H363.7V675.6H365.3V676.4H367.0V677.2H368.6V678.1H370.3V678.9H371.9V679.7H373.6V680.5H375.2V680.3H376.9V679.1H378.5V677.9H380.2V676.8H381.8V675.6H383.5V674.4H385.1V673.2H386.8V672.0H388.4V672.2H390.1V673.1H391.7V673.9H393.4V674.7H395.0V675.6H396.7V676.9H398.3V678.1H400.0V679.3H401.6V680.6H403.3V681.8H404.9V683.1H406.6V683.7H408.2V683.8H409.9V683.9H411.5V684.0H413.2V684.1H414.9V684.2H416.5V684.3H418.2V684.4H419.8V684.5H421.5V684.6H423.1V684.4H424.8V683.9H426.4V683.4H428.1V682.9H429.7V682.4H431.4V681.8H433.0V681.3H434.7V680.8H436.3V680.3H438.0V679.9H439.6V679.7H441.3V679.5H442.9V679.3H444.6V679.1H446.2V678.9H447.9V678.7H449.5V678.5H451.2V678.4H452.8V678.2H454.5V678.0H456.1V677.8H457.8V677.6H459.4V678.1H461.1V678.5H462.7V678.9H464.4V679.3H466.0V679.7H467.7V680.2H469.3V680.6H471.0V681.0H472.7V681.4H474.3V681.8H476.0V682.3H477.6V682.7H479.3V682.1H480.9V681.1H482.6V680.2H484.2V679.3H485.9V678.4H487.5V677.8H489.2V679.1H490.8V680.3H492.5V681.6H494.1V682.0H495.8V682.3H497.4V682.5H499.1V682.7H500.7V683.0H502.4V683.1H504.0V683.1H505.7V683.0H507.3V683.0H509.0V682.9H510.6V682.9H512.3V682.8H513.9V682.3H515.6V681.2H517.2V680.1H518.9V679.0H520.5V678.0H522.2V676.9H523.8V675.8H525.5V674.7H527.1V673.7H528.8V673.7H530.4V674.8H532.1V675.9H533.8V677.0H535.4V678.1H537.1V679.2H538.7V680.3H540.4V680.7H542.0V680.8H543.7V680.9H545.3V681.1H547.0V681.2H548.6V681.2H550.3V680.8H551.9V680.4H553.6V680.0H555.2V679.6H556.9V679.2H558.5V678.7H560.2V679.0H561.8V680.0H563.5V681.0H565.1V682.1H566.8V683.1H568.4V684.1H570.1V682.9H571.7V681.4H573.4V679.9H575.0V678.8H576.7V678.2H578.3V677.6H580.0V677.0H581.6V676.4H583.3V675.8H584.9V675.2H586.6V674.7H588.2V674.9H589.9V675.7H591.5V676.5H593.2V677.2H594.9V678.0H596.5V678.8H598.2V679.5H599.8V680.3H601.5V681.0H603.1V680.6H604.8V679.6H606.4V678.6H608.1V677.5H609.7V676.5H611.4V675.5H613.0V674.5H614.7V673.5H616.3V672.4H618.0V671.4H619.6V670.4H621.3V668.6H622.9V666.0H624.6V663.4H626.2V660.8H627.9V661.4H629.5V664.7H631.2V668.0H632.8V672.3H634.5V676.8H636.1V679.4H637.8V680.0H639.4V680.5H641.1V681.1H642.7V681.7H644.4V682.3H646.0V682.9H647.7V683.5H649.3V684.1H651.0V684.7H652.7V685.0H654.3V685.0H656.0V685.0H657.6V685.0H659.3V685.0H660.9V685.0H662.6V685.0H664.2V684.9H665.9V684.7H667.5V684.5H669.2V684.3H670.8V684.1H672.5V683.9H674.1V683.7H675.8V683.2H677.4V682.6H679.1V682.1H680.7V681.5H682.4V681.0H684.0V680.4H685.7V680.1H687.3V680.4H689.0V680.8H690.6V681.2H692.3V681.5H693.9V681.9H695.6V682.2H697.2V682.6H698.9V683.0H700.5V687.4Z" fill="#df4a5f"/><line x1="88" y1="689.6" x2="700.5" y2="689.6" stroke="#d7d7d7" stroke-width="2"/><text x="9.2" y="676" font-size="19" textLength="56.5" lengthAdjust="spacingAndGlyphs">BCOR</text><text x="696.8" y="645" font-size="14.5" text-anchor="end" textLength="29.1" lengthAdjust="spacingAndGlyphs">[0,8]</text><path d="M87.88 747.3V742.2H89.5V742.8H91.2V743.5H92.8V744.1H94.5V744.2H96.2V744.3H97.8V744.4H99.5V744.6H101.1V744.8H102.8V745.2H104.4V745.5H106.1V745.8H107.8V746.1H109.4V746.3H111.1V745.6H112.7V745.0H114.4V744.4H116.0V743.8H117.7V741.8H119.3V739.7H121.0V737.7H122.7V737.1H124.3V737.4H126.0V737.7H127.6V738.1H129.3V738.9H130.9V741.2H132.6V743.6H134.2V744.6H135.9V744.6H137.6V744.6H139.2V744.6H140.9V744.6H142.5V743.9H144.2V743.0H145.8V742.0H147.5V741.0H149.2V740.0H150.8V739.4H152.5V740.4H154.1V741.5H155.8V742.5H157.4V743.5H159.1V744.5H160.7V745.5H162.4V746.4H164.1V746.1H165.7V745.9H167.4V745.7H169.0V745.5H170.7V745.5H172.3V745.5H174.0V745.5H175.6V745.5H177.3V745.5H179.0V744.6H180.6V743.5H182.3V742.5H183.9V741.5H185.6V742.0H187.2V743.8H188.9V745.7H190.6V746.7H192.2V746.1H193.9V745.5H195.5V745.8H197.2V746.1H198.8V746.4H200.5V746.0H202.1V745.6H203.8V745.2H205.5V744.8H207.1V744.2H208.8V743.3H210.4V742.5H212.1V741.7H213.7V740.9H215.4V740.2H217.0V741.0H218.7V741.8H220.4V742.6H222.0V741.6H223.7V740.2H225.3V738.8H227.0V737.4H228.6V738.1H230.3V738.8H232.0V739.5H233.6V740.4H235.3V741.8H236.9V743.1H238.6V744.5H240.2V745.0H241.9V745.4H243.5V745.9H245.2V746.3H246.9V746.7H248.5V747.3ZM285.43 747.3V746.9H287.0V746.1H288.5V745.4H290.1V744.6H291.6V745.4H293.1V746.1H294.7V746.9H296.2V747.3ZM340 747.3V746.8H341.7V745.9H343.3V745.0H345.0V744.1H346.7V743.1H348.3V743.1H350.0V744.1H351.7V745.0H353.3V745.9H355.0V746.8H356.7V747.3ZM385.35 747.3V746.6H386.9V745.9H388.5V745.2H390.1V744.5H391.7V745.3H393.3V746.1H394.9V746.9H396.5V747.3ZM420.51 747.3V745.5H422.1V743.8H423.8V742.1H425.4V740.3H427.1V740.5H428.7V742.3H430.3V743.4H432.0V742.8H433.6V742.1H435.2V741.5H436.9V742.1H438.5V742.9H440.1V743.6H441.8V742.7H443.4V741.9H445.0V741.0H446.7V740.3H448.3V741.3H449.9V742.2H451.6V743.2H453.2V744.1H454.8V744.1H456.5V743.4H458.1V742.7H459.7V742.1H461.4V741.4H463.0V742.7H464.7V744.0H466.3V745.3H467.9V746.6H469.6V747.3ZM476.04 747.3V745.7H477.7V744.2H479.4V742.8H481.0V741.4H482.7V741.1H484.3V741.7H486.0V742.3H487.6V742.8H489.3V743.4H491.0V743.9H492.6V744.5H494.3V744.1H495.9V743.7H497.6V743.3H499.2V742.8H500.9V742.4H502.6V741.3H504.2V738.7H505.9V736.1H507.5V733.5H509.2V735.0H510.9V737.8H512.5V740.7H514.2V741.9H515.8V742.2H517.5V742.5H519.1V742.8H520.8V743.4H522.5V743.9H524.1V744.5H525.8V745.0H527.4V745.6H529.1V746.1H530.8V746.1H532.4V745.7H534.1V745.3H535.7V744.9H537.4V744.5H539.0V744.1H540.7V743.7H542.4V743.2H544.0V742.8H545.7V743.2H547.3V743.9H549.0V744.7H550.6V745.4H552.3V746.2H554.0V746.9H555.6V747.3ZM560.25 747.3V746.0H561.8V745.4H563.4V744.7H565.0V744.0H566.5V743.4H568.1V743.8H569.7V744.6H571.3V745.4H572.8V746.1H574.4V746.9H576.0V747.3ZM580.61 747.3V744.9H582.3V743.7H584.0V742.5H585.6V741.4H587.3V740.3H589.0V740.8H590.6V741.3H592.3V741.8H594.0V742.3H595.7V742.8H597.3V743.3H599.0V743.2H600.7V742.1H602.3V741.1H604.0V740.0H605.7V739.0H607.4V740.1H609.0V741.3H610.7V742.5H612.4V743.7H614.0V744.8H615.7V744.7H617.4V743.0H619.1V740.7H620.7V736.5H622.4V731.7H624.1V711.7H625.7V702.2H627.4V695.1H629.1V714.9H630.8V733.1H632.4V747.3ZM647.24 747.3V746.1H648.9V745.5H650.6V744.9H652.3V744.3H654.0V743.7H655.6V743.1H657.3V742.5H659.0V741.9H660.7V743.1H662.4V744.8H664.1V746.5H665.7V747.3ZM678.7 747.3V745.6H680.3V743.9H681.9V742.3H683.6V740.7H685.2V740.8H686.8V742.7H688.4V744.5H690.0V746.4H691.7V747.3Z" fill="#c59bcc"/><line x1="88" y1="749.4" x2="700.5" y2="749.4" stroke="#d7d7d7" stroke-width="2"/><text x="9.2" y="731.6" font-size="19" textLength="41.2" lengthAdjust="spacingAndGlyphs">SPI1</text><text x="696.8" y="706.2" font-size="14.5" text-anchor="end" textLength="38.3" lengthAdjust="spacingAndGlyphs">[0,14]</text><path d="M87.88 807.3V805.0H89.5V805.1H91.2V805.1H92.8V805.2H94.5V805.3H96.1V805.3H97.8V805.4H99.4V805.5H101.1V805.6H102.7V805.9H104.4V806.1H106.0V806.3H107.7V806.6H109.3V806.7H111.0V806.2H112.6V805.7H114.2V805.1H115.9V804.6H117.5V804.1H119.2V803.7H120.8V804.1H122.5V804.4H124.1V804.7H125.8V805.0H127.4V805.3H129.1V805.6H130.7V805.9H132.4V806.2H134.0V805.8H135.7V805.3H137.3V804.8H139.0V804.4H140.6V803.9H142.3V803.4H143.9V802.9H145.6V802.7H147.2V803.0H148.9V803.2H150.5V803.5H152.2V803.8H153.8V804.0H155.4V804.6H157.1V805.3H158.7V805.9H160.4V806.6H162.0V806.8H163.7V806.6H165.3V806.4H167.0V806.2H168.6V805.9H170.3V805.7H171.9V805.5H173.6V805.2H175.2V805.0H176.9V805.1H178.5V805.2H180.2V805.3H181.8V805.5H183.5V805.6H185.1V805.7H186.8V805.8H188.4V806.0H190.1V806.1H191.7V806.2H193.3V806.4H195.0V806.2H196.6V805.9H198.3V805.6H199.9V805.3H201.6V805.1H203.2V804.8H204.9V804.5H206.5V804.2H208.2V803.9H209.8V803.7H211.5V803.4H213.1V803.4H214.8V803.5H216.4V803.6H218.1V803.7H219.7V803.8H221.4V803.9H223.0V804.0H224.7V804.1H226.3V804.3H228.0V804.5H229.6V804.8H231.3V805.0H232.9V805.2H234.5V805.4H236.2V805.6H237.8V805.9H239.5V806.1H241.1V806.3H242.8V806.5H244.4V806.7H246.1V806.9H247.7V806.8H249.4V806.6H251.0V806.4H252.7V806.3H254.3V806.1H256.0V805.9H257.6V806.0H259.3V806.1H260.9V806.3H262.6V806.4H264.2V806.6H265.9V806.8H267.5V806.9H269.2V806.5H270.8V806.2H272.5V805.8H274.1V805.4H275.7V805.0H277.4V804.6H279.0V804.2H280.7V803.8H282.3V803.4H284.0V803.0H285.6V802.6H287.3V802.2H288.9V801.8H290.6V801.4H292.2V801.9H293.9V802.5H295.5V803.1H297.2V803.8H298.8V804.4H300.5V805.0H302.1V805.5H303.8V805.7H305.4V805.9H307.1V806.1H308.7V806.3H310.4V806.5H312.0V806.7H313.6V806.8H315.3V807.0H316.9V807.3ZM325.95 807.3V806.8H327.6V806.1H329.3V805.4H330.9V804.7H332.6V804.0H334.2V803.3H335.9V802.6H337.5V801.9H339.2V801.2H340.8V801.4H342.5V801.9H344.1V802.4H345.8V803.0H347.4V803.5H349.1V804.0H350.7V804.4H352.4V804.5H354.0V804.5H355.7V804.5H357.3V804.9H359.0V805.4H360.6V805.8H362.3V805.6H363.9V804.7H365.6V803.9H367.2V803.1H368.9V802.3H370.5V803.2H372.2V804.2H373.8V805.1H375.5V806.0H377.1V806.2H378.8V805.9H380.4V805.6H382.1V805.3H383.7V805.0H385.4V804.7H387.0V804.3H388.7V804.0H390.3V803.7H392.0V803.8H393.6V804.3H395.3V804.7H396.9V805.1H398.6V805.6H400.2V806.0H401.9V806.0H403.5V806.0H405.2V805.9H406.8V805.9H408.5V805.9H410.1V805.9H411.8V805.8H413.4V805.8H415.1V805.8H416.7V805.8H418.4V805.7H420.0V805.7H421.7V805.7H423.3V805.6H425.0V805.6H426.6V805.5H428.3V805.4H429.9V805.4H431.6V805.3H433.2V805.2H434.9V805.1H436.5V805.0H438.2V804.9H439.8V804.9H441.5V804.8H443.1V804.7H444.8V804.6H446.4V804.5H448.1V804.7H449.7V804.8H451.4V804.9H453.0V805.1H454.7V805.2H456.3V805.4H458.0V805.5H459.6V805.6H461.3V805.8H462.9V805.9H464.6V806.1H466.2V806.2H467.9V806.4H469.5V806.5H471.2V806.6H472.8V806.7H474.5V806.4H476.1V806.2H477.8V805.9H479.4V805.6H481.1V805.4H482.7V805.1H484.4V804.8H486.0V804.6H487.7V804.3H489.3V804.0H491.0V803.8H492.6V803.8H494.3V803.8H495.9V803.8H497.6V803.8H499.2V803.8H500.9V803.8H502.5V803.8H504.2V803.8H505.8V803.8H507.5V803.8H509.1V803.8H510.8V803.8H512.4V803.8H514.1V803.8H515.7V803.9H517.4V804.0H519.0V804.2H520.7V804.4H522.3V804.6H524.0V804.7H525.6V804.9H527.3V805.1H528.9V805.3H530.6V805.4H532.2V805.6H533.9V805.8H535.5V806.0H537.2V806.1H538.8V806.3H540.5V806.5H542.1V806.7H543.8V806.6H545.4V806.3H547.1V806.0H548.7V805.7H550.4V805.4H552.0V805.1H553.7V804.8H555.3V804.5H557.0V804.2H558.6V803.9H560.3V804.0H561.9V804.4H563.6V804.8H565.2V805.2H566.9V805.6H568.5V806.0H570.2V805.6H571.8V805.2H573.5V804.8H575.1V804.3H576.8V803.9H578.4V803.6H580.1V803.6H581.7V803.6H583.4V803.6H585.0V803.6H586.7V803.6H588.3V803.6H590.0V803.6H591.6V803.6H593.3V803.6H594.9V803.6H596.6V803.6H598.2V803.6H599.9V803.6H601.5V803.6H603.2V803.6H604.8V803.6H606.5V803.6H608.1V803.6H609.8V803.6H611.4V803.6H613.1V803.6H614.7V801.6H616.4V799.5H618.0V793.6H619.7V786.4H621.3V778.2H623.0V766.6H624.6V755.7H626.3V754.9H627.9V755.6H629.6V769.2H631.2V780.1H632.9V789.3H634.5V795.9H636.2V800.6H637.8V803.8H639.5V806.0H641.1V805.9H642.8V805.9H644.4V805.8H646.1V805.7H647.7V805.7H649.4V805.6H651.0V805.6H652.7V805.5H654.3V805.4H656.0V805.4H657.6V805.3H659.3V805.2H660.9V805.2H662.6V805.1H664.2V805.1H665.9V805.0H667.5V804.9H669.2V805.0H670.8V805.3H672.5V805.6H674.1V805.9H675.8V806.2H677.4V806.5H679.1V806.8H680.7V806.8H682.4V806.7H684.0V806.5H685.7V806.3H687.3V806.2H689.0V806.0H690.6V805.8H692.3V805.7H693.9V805.5H695.6V805.3H697.2V805.1H698.9V805.0H700.5V807.3Z" fill="#f2a52a"/><line x1="88" y1="809.4" x2="700.5" y2="809.4" stroke="#d7d7d7" stroke-width="2"/><text x="9.2" y="794.5" font-size="19" textLength="43.5" lengthAdjust="spacingAndGlyphs">TAL1</text><text x="696.8" y="770.6" font-size="14.5" text-anchor="end" textLength="38.3" lengthAdjust="spacingAndGlyphs">[0,21]</text><path d="M87.88 867V858.7H89.5V859.2H91.2V859.8H92.8V860.4H94.5V861.0H96.1V860.9H97.8V860.7H99.4V860.6H101.1V860.9H102.7V861.4H104.4V862.0H106.0V862.5H107.7V863.1H109.3V863.6H111.0V864.1H112.6V863.8H114.2V863.5H115.9V863.2H117.5V862.9H119.2V862.0H120.8V860.9H122.5V859.7H124.1V858.6H125.8V858.0H127.4V858.5H129.1V859.1H130.7V859.6H132.4V860.1H134.0V859.1H135.7V858.1H137.3V857.0H139.0V856.0H140.6V854.9H142.3V854.9H143.9V856.1H145.6V857.2H147.2V858.3H148.9V859.4H150.5V860.2H152.2V861.1H153.8V860.3H155.4V857.2H157.1V854.0H158.7V851.9H160.4V850.2H162.0V848.6H163.7V851.8H165.3V855.5H167.0V858.5H168.6V859.3H170.3V860.2H171.9V861.0H173.6V860.0H175.2V858.9H176.9V857.8H178.5V856.0H180.2V853.7H181.8V851.4H183.5V850.6H185.1V849.9H186.8V849.4H188.4V849.9H190.1V850.4H191.7V850.9H193.3V851.4H195.0V852.3H196.6V853.3H198.3V854.3H199.9V856.1H201.6V858.5H203.2V860.3H204.9V860.7H206.5V861.2H208.2V861.6H209.8V861.3H211.5V861.0H213.1V860.8H214.8V860.5H216.4V860.2H218.1V859.9H219.7V857.4H221.4V852.6H223.0V847.9H224.7V843.5H226.3V843.4H228.0V845.3H229.6V847.2H231.3V849.1H232.9V845.8H234.5V841.7H236.2V839.9H237.8V839.2H239.5V838.5H241.1V837.8H242.8V841.0H244.4V845.0H246.1V849.0H247.7V854.0H249.4V858.9H251.0V858.8H252.7V858.2H254.3V857.7H256.0V857.2H257.6V858.0H259.3V860.0H260.9V862.0H262.6V864.0H264.2V865.6H265.9V865.9H267.5V866.2H269.2V866.4H270.8V864.4H272.5V862.0H274.1V860.1H275.7V860.0H277.4V860.0H279.0V859.9H280.7V859.6H282.3V859.2H284.0V858.8H285.6V858.4H287.3V857.9H288.9V857.5H290.6V857.3H292.2V857.1H293.9V856.9H295.5V856.7H297.2V857.7H298.8V859.9H300.5V862.1H302.1V863.8H303.8V864.0H305.4V864.2H307.1V864.4H308.7V864.6H310.4V864.8H312.0V865.0H313.6V865.3H315.3V865.5H316.9V867ZM326.85 867V866.0H328.5V864.9H330.2V863.9H331.8V862.8H333.5V861.7H335.1V860.7H336.8V858.5H338.4V855.3H340.1V852.0H341.7V852.6H343.4V853.1H345.0V853.7H346.7V854.3H348.3V854.9H350.0V855.5H351.7V856.1H353.3V858.3H355.0V861.2H356.6V863.1H358.3V864.0H359.9V863.9H361.6V861.0H363.2V858.1H364.9V857.3H366.5V856.4H368.2V855.6H369.8V854.9H371.5V855.8H373.1V856.8H374.8V857.8H376.5V858.7H378.1V859.7H379.8V860.7H381.4V861.6H383.1V860.0H384.7V857.8H386.4V855.6H388.0V853.3H389.7V850.9H391.3V848.4H393.0V846.0H394.6V846.1H396.3V848.5H398.0V851.0H399.6V851.6H401.3V851.6H402.9V851.6H404.6V851.6H406.2V851.6H407.9V851.9H409.5V853.7H411.2V855.6H412.8V857.5H414.5V859.3H416.1V858.5H417.8V856.3H419.4V854.1H421.1V851.6H422.8V848.4H424.4V845.3H426.1V845.3H427.7V848.4H429.4V851.6H431.0V852.7H432.7V852.8H434.3V853.0H436.0V853.2H437.6V853.3H439.3V853.6H440.9V854.4H442.6V855.2H444.2V856.1H445.9V856.9H447.6V857.7H449.2V858.5H450.9V858.2H452.5V856.2H454.2V854.5H455.8V855.0H457.5V855.5H459.1V856.0H460.8V856.6H462.4V857.1H464.1V857.6H465.7V858.1H467.4V858.6H469.1V859.1H470.7V859.3H472.4V859.5H474.0V859.7H475.7V859.9H477.3V857.5H479.0V854.1H480.6V850.7H482.3V849.3H483.9V851.4H485.6V853.6H487.2V855.7H488.9V857.9H490.5V857.3H492.2V856.3H493.9V855.3H495.5V854.4H497.2V853.4H498.8V852.4H500.5V851.8H502.1V852.6H503.8V853.4H505.4V854.3H507.1V855.1H508.7V855.9H510.4V856.7H512.0V857.9H513.7V859.6H515.3V861.2H517.0V862.7H518.7V862.0H520.3V861.3H522.0V860.6H523.6V859.8H525.3V859.1H526.9V858.4H528.6V857.7H530.2V857.2H531.9V857.2H533.5V857.2H535.2V857.2H536.8V857.2H538.5V857.2H540.2V857.2H541.8V853.9H543.5V851.2H545.1V853.1H546.8V855.0H548.4V857.0H550.1V858.9H551.7V858.6H553.4V858.2H555.0V857.7H556.7V857.3H558.3V856.8H560.0V856.4H561.6V857.6H563.3V859.2H565.0V860.9H566.6V862.5H568.3V864.2H569.9V865.8H571.6V865.0H573.2V862.7H574.9V860.5H576.5V858.2H578.2V855.9H579.8V853.8H581.5V851.7H583.1V849.6H584.8V847.5H586.4V845.4H588.1V843.3H589.8V846.1H591.4V849.0H593.1V851.8H594.7V854.4H596.4V853.7H598.0V853.0H599.7V852.4H601.3V852.8H603.0V853.8H604.6V854.7H606.3V855.6H607.9V856.0H609.6V855.0H611.3V854.0H612.9V853.0H614.6V852.1H616.2V851.1H617.9V846.9H619.5V840.9H621.2V835.0H622.8V825.6H624.5V816.7H626.1V815.2H627.8V815.2H629.4V824.1H631.1V838.1H632.7V846.9H634.4V852.5H636.1V855.7H637.7V858.9H639.4V861.5H641.0V861.6H642.7V861.7H644.3V861.8H646.0V861.9H647.6V862.0H649.3V862.1H650.9V861.4H652.6V859.7H654.2V858.7H655.9V859.7H657.5V860.7H659.2V861.7H660.9V860.5H662.5V858.9H664.2V857.4H665.8V855.9H667.5V856.5H669.1V857.1H670.8V857.8H672.4V858.4H674.1V859.0H675.7V858.7H677.4V858.4H679.0V858.1H680.7V857.7H682.4V857.4H684.0V857.1H685.7V856.7H687.3V856.4H689.0V856.1H690.6V855.8H692.3V856.3H693.9V856.9H695.6V857.5H697.2V858.1H698.9V858.7H700.5V867Z" fill="#6fcbaf"/><line x1="88" y1="869.2" x2="700.5" y2="869.2" stroke="#d7d7d7" stroke-width="2"/><text x="9.6" y="860.3" font-size="19" textLength="63.6" lengthAdjust="spacingAndGlyphs">RUNX1</text><text x="696.8" y="830" font-size="14.5" text-anchor="end" textLength="43" lengthAdjust="spacingAndGlyphs">[0,4.2]</text><text x="159.4" y="943.9" font-size="17.3" fill="#8c8c8c" text-anchor="middle" textLength="74.5" lengthAdjust="spacingAndGlyphs" class="rl" stroke="#8c8c8c" stroke-width="0.45">43103000</text><text x="281" y="943.9" font-size="17.3" fill="#8c8c8c" text-anchor="middle" textLength="74.5" lengthAdjust="spacingAndGlyphs" class="rl" stroke="#8c8c8c" stroke-width="0.45">43107000</text><text x="402.6" y="943.9" font-size="17.3" fill="#8c8c8c" text-anchor="middle" textLength="74.5" lengthAdjust="spacingAndGlyphs" class="rl" stroke="#8c8c8c" stroke-width="0.45">43111000</text><text x="493.8" y="943.9" font-size="17.3" fill="#8c8c8c" text-anchor="middle" textLength="74.5" lengthAdjust="spacingAndGlyphs" class="rl" stroke="#8c8c8c" stroke-width="0.45">43114000</text><text x="615.4" y="943.9" font-size="17.3" fill="#8c8c8c" text-anchor="middle" textLength="74.5" lengthAdjust="spacingAndGlyphs" class="rl" stroke="#8c8c8c" stroke-width="0.45">43118000</text><line x1="82.5" y1="955.5" x2="674.9" y2="955.5" stroke="#9a9a9a" stroke-width="2.2"/><line x1="98.6" y1="951.4" x2="98.6" y2="955.5" stroke="#9a9a9a" stroke-width="1.6"/><line x1="129" y1="951.4" x2="129" y2="955.5" stroke="#9a9a9a" stroke-width="1.6"/><line x1="159.4" y1="947.2" x2="159.4" y2="955.5" stroke="#9a9a9a" stroke-width="1.6"/><line x1="189.8" y1="951.4" x2="189.8" y2="955.5" stroke="#9a9a9a" stroke-width="1.6"/><line x1="220.2" y1="951.4" x2="220.2" y2="955.5" stroke="#9a9a9a" stroke-width="1.6"/><line x1="250.6" y1="951.4" x2="250.6" y2="955.5" stroke="#9a9a9a" stroke-width="1.6"/><line x1="281" y1="947.2" x2="281" y2="955.5" stroke="#9a9a9a" stroke-width="1.6"/><line x1="311.4" y1="951.4" x2="311.4" y2="955.5" stroke="#9a9a9a" stroke-width="1.6"/><line x1="341.8" y1="951.4" x2="341.8" y2="955.5" stroke="#9a9a9a" stroke-width="1.6"/><line x1="372.2" y1="951.4" x2="372.2" y2="955.5" stroke="#9a9a9a" stroke-width="1.6"/><line x1="402.6" y1="947.2" x2="402.6" y2="955.5" stroke="#9a9a9a" stroke-width="1.6"/><line x1="433" y1="951.4" x2="433" y2="955.5" stroke="#9a9a9a" stroke-width="1.6"/><line x1="463.4" y1="951.4" x2="463.4" y2="955.5" stroke="#9a9a9a" stroke-width="1.6"/><line x1="493.8" y1="947.2" x2="493.8" y2="955.5" stroke="#9a9a9a" stroke-width="1.6"/><line x1="524.2" y1="951.4" x2="524.2" y2="955.5" stroke="#9a9a9a" stroke-width="1.6"/><line x1="554.6" y1="951.4" x2="554.6" y2="955.5" stroke="#9a9a9a" stroke-width="1.6"/><line x1="585" y1="951.4" x2="585" y2="955.5" stroke="#9a9a9a" stroke-width="1.6"/><line x1="615.4" y1="947.2" x2="615.4" y2="955.5" stroke="#9a9a9a" stroke-width="1.6"/><line x1="645.8" y1="951.4" x2="645.8" y2="955.5" stroke="#9a9a9a" stroke-width="1.6"/><line x1="82.5" y1="962.7" x2="674.9" y2="962.7" stroke="#e0e0e0" stroke-width="1.3"/><text x="360.2" y="980.2" font-size="19" textLength="32.2" lengthAdjust="spacingAndGlyphs">BIK</text><line x1="395" y1="966.9" x2="395" y2="978.9" stroke="#000" stroke-width="1.9"/><line x1="394.5" y1="972.9" x2="674.9" y2="972.9" stroke="#000" stroke-width="1.9"/><clipPath id="clipbik"><rect x="380" y="960" width="294.9" height="25"/></clipPath><g clip-path="url(#clipbik)"><path d="M401.4,966.8 L406,972.9 L401.4,979" fill="none" stroke="#000" stroke-width="1.9"/><path d="M415.02,966.8 L419.62,972.9 L415.02,979" fill="none" stroke="#000" stroke-width="1.9"/><path d="M428.64,966.8 L433.24,972.9 L428.64,979" fill="none" stroke="#000" stroke-width="1.9"/><path d="M442.26,966.8 L446.86,972.9 L442.26,979" fill="none" stroke="#000" stroke-width="1.9"/><path d="M455.88,966.8 L460.48,972.9 L455.88,979" fill="none" stroke="#000" stroke-width="1.9"/><path d="M469.5,966.8 L474.1,972.9 L469.5,979" fill="none" stroke="#000" stroke-width="1.9"/><path d="M483.12,966.8 L487.72,972.9 L483.12,979" fill="none" stroke="#000" stroke-width="1.9"/><path d="M496.74,966.8 L501.34,972.9 L496.74,979" fill="none" stroke="#000" stroke-width="1.9"/><path d="M510.36,966.8 L514.96,972.9 L510.36,979" fill="none" stroke="#000" stroke-width="1.9"/><path d="M523.98,966.8 L528.58,972.9 L523.98,979" fill="none" stroke="#000" stroke-width="1.9"/><path d="M537.6,966.8 L542.2,972.9 L537.6,979" fill="none" stroke="#000" stroke-width="1.9"/><path d="M551.22,966.8 L555.82,972.9 L551.22,979" fill="none" stroke="#000" stroke-width="1.9"/><path d="M564.84,966.8 L569.44,972.9 L564.84,979" fill="none" stroke="#000" stroke-width="1.9"/><path d="M578.46,966.8 L583.06,972.9 L578.46,979" fill="none" stroke="#000" stroke-width="1.9"/><path d="M592.08,966.8 L596.68,972.9 L592.08,979" fill="none" stroke="#000" stroke-width="1.9"/><path d="M605.7,966.8 L610.3,972.9 L605.7,979" fill="none" stroke="#000" stroke-width="1.9"/><path d="M619.32,966.8 L623.92,972.9 L619.32,979" fill="none" stroke="#000" stroke-width="1.9"/><path d="M632.94,966.8 L637.54,972.9 L632.94,979" fill="none" stroke="#000" stroke-width="1.9"/><path d="M646.56,966.8 L651.16,972.9 L646.56,979" fill="none" stroke="#000" stroke-width="1.9"/><path d="M660.18,966.8 L664.78,972.9 L660.18,979" fill="none" stroke="#000" stroke-width="1.9"/><path d="M673.8,966.8 L678.4,972.9 L673.8,979" fill="none" stroke="#000" stroke-width="1.9"/></g><line x1="82.5" y1="988" x2="674.9" y2="988" stroke="#e0e0e0" stroke-width="1.3"/><text x="116" y="1005" font-size="19" fill="#3246a6" textLength="69.5" lengthAdjust="spacingAndGlyphs">LTR13A</text><rect x="188.7" y="988.8" width="28.3" height="18.9" fill="#3246a6"/><path d="M198.5,993.2 L194.1,998.2 L198.5,1003.2" fill="none" stroke="#fff" stroke-width="1.6"/><path d="M212,993.2 L207.6,998.2 L212,1003.2" fill="none" stroke="#fff" stroke-width="1.6"/><line x1="82.5" y1="1008.6" x2="674.9" y2="1008.6" stroke="#e0e0e0" stroke-width="1.3"/><path d="M82.48 1062.7V1055.0H84.2V1056.2H86.0V1058.3H87.7V1058.9H89.4V1059.5H91.2V1060.1H92.9V1060.7H94.7V1061.3H96.4V1062.0H98.1V1062.7ZM106.25 1062.7V1059.5H107.9V1058.5H109.6V1057.5H111.3V1056.5H113.0V1055.4H114.7V1054.7H116.4V1055.6H118.1V1056.2H119.8V1049.9H121.4V1045.9H123.1V1046.0H124.8V1048.5H126.5V1052.1H128.2V1055.9H129.9V1058.8H131.6V1061.2H133.3V1062.7ZM144.07 1062.7V1061.8H145.9V1061.8H147.7V1061.8H149.5V1061.8H151.3V1062.7ZM172.88 1062.7V1060.5H174.5V1060.4H176.2V1060.3H177.8V1060.2H179.5V1060.1H181.1V1059.8H182.8V1054.0H184.4V1049.1H186.1V1045.2H187.7V1041.4H189.4V1039.9H191.0V1039.4H192.6V1039.0H194.3V1040.8H195.9V1052.0H197.6V1052.2H199.2V1040.3H200.9V1026.7H202.5V1022.8H204.2V1021.3H205.8V1025.8H207.5V1036.9H209.1V1048.0H210.8V1059.0H212.4V1060.4H214.1V1060.7H215.7V1059.3H217.4V1057.8H219.0V1058.3H220.6V1060.0H222.3V1061.6H223.9V1061.6H225.6V1061.4H227.2V1061.1H228.9V1060.9H230.5V1060.6H232.2V1060.4H233.8V1060.2H235.5V1060.2H237.1V1061.1H238.8V1061.9H240.4V1062.7ZM271.02 1062.7V1061.9H272.7V1061.1H274.3V1060.2H276.0V1060.6H277.6V1061.3H279.3V1062.0H280.9V1062.7ZM300.74 1062.7V1062.3H302.3V1062.3H303.8V1062.3H305.4V1062.3H306.9V1062.3H308.5V1062.3H310.0V1062.3H311.5V1062.7ZM340.8 1062.7V1061.3H342.4V1061.3H344.0V1061.3H345.5V1061.3H347.1V1062.7ZM357.01 1062.7V1061.1H358.7V1060.8H360.4V1060.5H362.0V1060.2H363.7V1060.1H365.4V1060.6H367.0V1061.0H368.7V1062.7ZM381.32 1062.7V1061.1H382.9V1059.6H384.5V1058.2H386.1V1056.7H387.7V1057.2H389.3V1058.2H390.9V1059.2H392.5V1060.3H394.1V1061.3H395.7V1062.7ZM402.03 1062.7V1061.8H403.7V1061.8H405.3V1061.8H406.9V1061.8H408.5V1061.8H410.1V1062.7ZM420.94 1062.7V1061.1H422.6V1060.8H424.2V1060.4H425.9V1060.1H427.5V1060.1H429.2V1060.4H430.8V1060.6H432.5V1060.8H434.1V1061.0H435.8V1061.2H437.4V1061.5H439.1V1061.7H440.8V1062.7ZM448.85 1062.7V1061.8H450.5V1061.7H452.2V1061.7H453.9V1061.7H455.6V1061.6H457.3V1061.6H458.9V1061.6H460.6V1061.5H462.3V1061.5H464.0V1061.5H465.7V1061.4H467.3V1061.4H469.0V1061.3H470.7V1061.3H472.4V1061.3H474.1V1062.7ZM488.47 1062.7V1061.7H490.1V1061.4H491.7V1061.1H493.3V1060.9H494.9V1061.1H496.5V1061.2H498.1V1061.4H499.7V1061.6H501.3V1061.7H502.9V1062.7ZM516.39 1062.7V1061.5H518.0V1060.9H519.5V1060.2H521.1V1059.7H522.7V1060.1H524.3V1060.6H525.8V1061.1H527.4V1061.6H529.0V1062.7ZM547 1062.7V1061.8H548.8V1061.8H550.6V1061.8H552.4V1061.8H554.2V1062.7ZM578.51 1062.7V1061.8H580.3V1061.8H582.1V1061.8H583.9V1061.8H585.7V1062.7ZM620.83 1062.7V1061.8H622.5V1061.7H624.1V1061.6H625.7V1061.5H627.4V1061.4H629.0V1061.3H630.6V1061.2H632.3V1061.1H633.9V1061.0H635.5V1060.9H637.2V1061.1H638.8V1061.2H640.4V1061.3H642.0V1061.5H643.7V1061.6H645.3V1061.7H646.9V1062.7Z" fill="#6a97cc"/><line x1="82.5" y1="1065" x2="674.9" y2="1065" stroke="#d7d7d7" stroke-width="2"/><text x="-1.3" y="1042" font-size="19" textLength="80.6" lengthAdjust="spacingAndGlyphs">H3K27ac</text><text x="595.2" y="1029" font-size="14.5" text-anchor="end" textLength="37.7" lengthAdjust="spacingAndGlyphs">[0,31]</text><path d="M82.48 1122.1V1111.7H84.1V1110.8H85.8V1109.9H87.4V1110.2H89.1V1111.5H90.7V1112.7H92.4V1113.6H94.0V1113.5H95.7V1113.4H97.3V1113.3H99.0V1113.2H100.7V1113.0H102.3V1112.9H104.0V1112.7H105.6V1112.4H107.3V1111.0H108.9V1109.6H110.6V1106.0H112.2V1102.3H113.9V1090.2H115.5V1081.6H117.2V1081.6H118.8V1086.4H120.5V1104.2H122.1V1111.4H123.8V1114.0H125.4V1115.2H127.1V1116.4H128.7V1117.5H130.4V1117.9H132.0V1118.2H133.7V1117.8H135.4V1115.1H137.0V1116.2H138.7V1117.4H140.3V1118.6H142.0V1119.1H143.6V1117.9H145.3V1116.8H146.9V1115.9H148.6V1117.5H150.2V1119.2H151.9V1120.8H153.5V1121.3H155.2V1121.5H156.8V1121.2H158.5V1120.5H160.1V1119.8H161.8V1119.2H163.4V1118.5H165.1V1117.9H166.7V1117.2H168.4V1117.3H170.1V1117.4H171.7V1117.5H173.4V1117.6H175.0V1116.3H176.7V1114.5H178.3V1113.9H180.0V1114.3H181.6V1114.8H183.3V1115.3H184.9V1115.7H186.6V1116.0H188.2V1113.7H189.9V1111.4H191.5V1109.1H193.2V1107.3H194.8V1105.6H196.5V1104.0H198.1V1104.1H199.8V1105.7H201.4V1102.2H203.1V1098.1H204.8V1089.2H206.4V1083.5H208.1V1085.2H209.7V1095.5H211.4V1106.5H213.0V1115.3H214.7V1115.8H216.3V1113.3H218.0V1110.9H219.6V1109.4H221.3V1109.2H222.9V1109.0H224.6V1108.8H226.2V1108.6H227.9V1108.4H229.5V1108.3H231.2V1108.5H232.8V1108.9H234.5V1109.2H236.1V1109.5H237.8V1109.9H239.5V1111.4H241.1V1114.2H242.8V1117.1H244.4V1119.5H246.1V1120.2H247.7V1120.8H249.4V1118.1H251.0V1115.3H252.7V1114.8H254.3V1114.8H256.0V1114.7H257.6V1114.6H259.3V1114.6H260.9V1115.2H262.6V1117.1H264.2V1117.9H265.9V1114.9H267.5V1111.9H269.2V1110.1H270.8V1109.6H272.5V1109.1H274.1V1108.5H275.8V1108.0H277.5V1107.4H279.1V1107.9H280.8V1109.4H282.4V1111.0H284.1V1112.3H285.7V1112.8H287.4V1113.3H289.0V1113.8H290.7V1114.3H292.3V1114.1H294.0V1113.8H295.6V1113.5H297.3V1113.2H298.9V1113.0H300.6V1112.9H302.2V1112.8H303.9V1112.7H305.5V1112.6H307.2V1112.6H308.8V1114.1H310.5V1115.5H312.2V1116.9H313.8V1117.7H315.5V1118.3H317.1V1118.9H318.8V1119.5H320.4V1120.1H322.1V1120.7H323.7V1121.0H325.4V1120.0H327.0V1119.0H328.7V1118.0H330.3V1117.0H332.0V1116.0H333.6V1115.5H335.3V1115.0H336.9V1114.6H338.6V1114.2H340.2V1113.8H341.9V1113.3H343.5V1112.9H345.2V1112.8H346.9V1114.1H348.5V1115.5H350.2V1116.9H351.8V1118.2H353.5V1118.3H355.1V1118.0H356.8V1117.7H358.4V1117.4H360.1V1116.5H361.7V1115.1H363.4V1113.6H365.0V1115.4H366.7V1117.3H368.3V1119.1H370.0V1120.9H371.6V1119.9H373.3V1117.3H374.9V1114.7H376.6V1112.0H378.2V1108.8H379.9V1105.7H381.6V1102.8H383.2V1102.2H384.9V1101.7H386.5V1101.2H388.2V1100.6H389.8V1105.7H391.5V1112.5H393.1V1116.0H394.8V1119.4H396.4V1121.5H398.1V1121.3H399.7V1120.3H401.4V1115.6H403.0V1110.9H404.7V1106.2H406.3V1107.7H408.0V1109.6H409.6V1111.5H411.3V1112.1H412.9V1112.0H414.6V1111.8H416.3V1114.4H417.9V1117.2H419.6V1119.3H421.2V1118.7H422.9V1118.1H424.5V1117.5H426.2V1116.9H427.8V1116.3H429.5V1116.6H431.1V1117.1H432.8V1117.6H434.4V1118.1H436.1V1118.7H437.7V1118.7H439.4V1117.5H441.0V1116.3H442.7V1115.1H444.3V1113.9H446.0V1112.7H447.6V1113.1H449.3V1113.7H450.9V1114.3H452.6V1114.9H454.3V1115.4H455.9V1116.5H457.6V1118.1H459.2V1119.0H460.9V1117.4H462.5V1115.7H464.2V1114.1H465.8V1112.4H467.5V1112.2H469.1V1114.8H470.8V1117.4H472.4V1118.4H474.1V1118.4H475.7V1118.3H477.4V1118.2H479.0V1118.1H480.7V1118.0H482.3V1118.0H484.0V1118.2H485.6V1118.5H487.3V1118.8H489.0V1119.0H490.6V1119.3H492.3V1120.0H493.9V1121.0H495.6V1121.1H497.2V1120.0H498.9V1118.8H500.5V1117.7H502.2V1116.7H503.8V1116.0H505.5V1115.4H507.1V1114.8H508.8V1114.2H510.4V1112.2H512.1V1109.7H513.7V1107.2H515.4V1110.3H517.0V1113.5H518.7V1116.7H520.3V1120.2H522.0V1121.1H523.7V1120.4H525.3V1119.6H527.0V1118.9H528.6V1118.2H530.3V1117.4H531.9V1116.7H533.6V1116.0H535.2V1115.3H536.9V1114.5H538.5V1114.4H540.2V1116.0H541.8V1117.6H543.5V1119.1H545.1V1120.7H546.8V1119.8H548.4V1118.7H550.1V1117.6H551.7V1116.5H553.4V1115.4H555.0V1114.3H556.7V1114.1H558.4V1115.5H560.0V1116.8H561.7V1118.1H563.3V1119.4H565.0V1117.7H566.6V1116.1H568.3V1114.4H569.9V1113.2H571.6V1113.8H573.2V1114.4H574.9V1115.0H576.5V1115.6H578.2V1116.2H579.8V1117.0H581.5V1118.4H583.1V1119.7H584.8V1121.1H586.4V1121.1H588.1V1121.0H589.7V1120.9H591.4V1120.4H593.1V1119.7H594.7V1119.0H596.4V1118.3H598.0V1117.6H599.7V1116.9H601.3V1116.2H603.0V1115.5H604.6V1114.8H606.3V1115.0H607.9V1116.4H609.6V1117.9H611.2V1119.4H612.9V1120.8H614.5V1122.1ZM619.03 1122.1V1121.7H620.7V1121.0H622.3V1119.5H624.0V1118.0H625.6V1116.5H627.2V1114.9H628.9V1113.4H630.5V1111.9H632.2V1110.3H633.8V1108.8H635.5V1109.2H637.1V1110.8H638.7V1112.4H640.4V1113.9H642.0V1115.5H643.7V1117.0H645.3V1118.6H646.9V1119.3H648.6V1119.2H650.2V1119.0H651.9V1118.8H653.5V1118.7H655.2V1118.5H656.8V1118.3H658.4V1118.2H660.1V1118.0H661.7V1118.2H663.4V1118.6H665.0V1118.9H666.6V1119.3H668.3V1119.6H669.9V1120.0H671.6V1120.3H673.2V1120.7H674.9V1122.1Z" fill="#2f44a0"/><line x1="82.5" y1="1124.5" x2="674.9" y2="1124.5" stroke="#d7d7d7" stroke-width="2"/><text x="-1.3" y="1109" font-size="19" textLength="53" lengthAdjust="spacingAndGlyphs">IKFZ1</text><text x="594.3" y="1082" font-size="14.5" text-anchor="end" textLength="29.2" lengthAdjust="spacingAndGlyphs">[0,7]</text><path d="M82.48 1181.6V1135.2H84.1V1160.3H85.8V1168.7H87.4V1175.3H89.1V1178.8H90.7V1178.6H92.4V1178.4H94.0V1178.3H95.7V1178.1H97.3V1177.8H99.0V1177.4H100.6V1177.0H102.3V1176.5H103.9V1175.8H105.6V1173.3H107.2V1170.8H108.9V1170.3H110.5V1169.7H112.2V1169.2H113.8V1166.3H115.4V1162.4H117.1V1157.7H118.7V1156.0H120.4V1160.1H122.0V1167.3H123.7V1171.4H125.3V1175.4H127.0V1176.6H128.6V1177.8H130.3V1179.1H131.9V1180.3H133.6V1180.5H135.2V1180.1H136.9V1179.8H138.5V1179.5H140.2V1179.3H141.8V1179.5H143.5V1179.7H145.1V1179.9H146.8V1180.1H148.4V1180.3H150.1V1180.5H151.7V1180.6H153.4V1180.8H155.0V1180.9H156.7V1181.0H158.3V1181.1H160.0V1181.2H161.6V1181.2H163.3V1181.0H164.9V1180.8H166.6V1180.6H168.2V1180.4H169.9V1179.9H171.5V1179.5H173.1V1179.0H174.8V1178.5H176.4V1178.0H178.1V1177.5H179.7V1177.9H181.4V1178.3H183.0V1178.8H184.7V1179.3H186.3V1179.8H188.0V1174.8H189.6V1169.5H191.3V1160.0H192.9V1149.3H194.6V1141.6H196.2V1136.3H197.9V1138.4H199.5V1147.4H201.2V1158.1H202.8V1168.4H204.5V1171.7H206.1V1175.0H207.8V1176.2H209.4V1177.3H211.1V1178.3H212.7V1179.3H214.4V1179.2H216.0V1178.2H217.7V1177.2H219.3V1176.2H221.0V1175.6H222.6V1177.2H224.3V1178.9H225.9V1180.5H227.6V1180.6H229.2V1180.5H230.8V1180.4H232.5V1180.3H234.1V1180.3H235.8V1180.2H237.4V1180.1H239.1V1180.0H240.7V1179.9H242.4V1179.8H244.0V1179.8H245.7V1179.9H247.3V1179.9H249.0V1179.9H250.6V1180.0H252.3V1180.0H253.9V1180.0H255.6V1180.1H257.2V1180.1H258.9V1180.1H260.5V1180.2H262.2V1180.2H263.8V1180.2H265.5V1180.3H267.1V1180.3H268.8V1180.3H270.4V1180.2H272.1V1180.1H273.7V1180.0H275.4V1179.8H277.0V1179.7H278.7V1179.6H280.3V1179.4H282.0V1179.3H283.6V1179.1H285.3V1179.0H286.9V1178.9H288.5V1178.7H290.2V1178.6H291.8V1178.7H293.5V1178.9H295.1V1179.2H296.8V1179.4H298.4V1179.7H300.1V1179.9H301.7V1180.2H303.4V1180.4H305.0V1180.7H306.7V1180.6H308.3V1180.5H310.0V1180.4H311.6V1180.3H313.3V1180.2H314.9V1180.1H316.6V1180.0H318.2V1179.9H319.9V1179.8H321.5V1179.7H323.2V1179.6H324.8V1179.6H326.5V1179.5H328.1V1179.4H329.8V1179.3H331.4V1179.2H333.1V1179.1H334.7V1179.0H336.4V1179.0H338.0V1179.3H339.7V1179.6H341.3V1180.0H342.9V1180.3H344.6V1180.6H346.2V1180.5H347.9V1180.3H349.5V1180.1H351.2V1179.9H352.8V1179.7H354.5V1179.5H356.1V1179.3H357.8V1179.1H359.4V1179.1H361.1V1179.4H362.7V1179.7H364.4V1179.9H366.0V1180.1H367.7V1180.3H369.3V1180.5H371.0V1180.6H372.6V1180.0H374.3V1179.4H375.9V1178.8H377.6V1178.2H379.2V1177.6H380.9V1177.0H382.5V1176.5H384.2V1175.9H385.8V1175.3H387.5V1175.5H389.1V1176.8H390.8V1178.1H392.4V1179.4H394.1V1180.7H395.7V1180.3H397.4V1179.9H399.0V1179.5H400.6V1179.1H402.3V1178.7H403.9V1178.8H405.6V1179.2H407.2V1179.6H408.9V1180.0H410.5V1180.3H412.2V1180.7H413.8V1180.3H415.5V1180.0H417.1V1179.7H418.8V1179.3H420.4V1179.0H422.1V1178.7H423.7V1178.8H425.4V1179.1H427.0V1179.5H428.7V1179.9H430.3V1180.3H432.0V1180.7H433.6V1181.1H435.3V1180.5H436.9V1180.0H438.6V1179.5H440.2V1179.0H441.9V1178.4H443.5V1178.4H445.2V1178.8H446.8V1179.1H448.5V1179.5H450.1V1179.9H451.8V1180.3H453.4V1180.6H455.1V1181.0H456.7V1180.9H458.3V1180.6H460.0V1180.4H461.6V1180.2H463.3V1180.0H464.9V1179.8H466.6V1179.5H468.2V1179.3H469.9V1179.1H471.5V1178.9H473.2V1178.9H474.8V1179.0H476.5V1179.0H478.1V1179.0H479.8V1179.1H481.4V1179.1H483.1V1179.2H484.7V1179.2H486.4V1179.2H488.0V1179.3H489.7V1179.3H491.3V1179.4H493.0V1179.5H494.6V1179.5H496.3V1179.6H497.9V1179.6H499.6V1179.7H501.2V1179.8H502.9V1179.7H504.5V1179.6H506.2V1179.4H507.8V1179.2H509.5V1179.1H511.1V1178.9H512.8V1178.7H514.4V1178.6H516.0V1178.7H517.7V1178.9H519.3V1179.1H521.0V1179.3H522.6V1179.5H524.3V1179.7H525.9V1179.9H527.6V1180.1H529.2V1180.3H530.9V1180.5H532.5V1180.7H534.2V1180.6H535.8V1180.4H537.5V1180.3H539.1V1180.2H540.8V1180.1H542.4V1179.9H544.1V1179.8H545.7V1179.7H547.4V1179.5H549.0V1179.4H550.7V1179.3H552.3V1179.1H554.0V1179.0H555.6V1178.9H557.3V1178.7H558.9V1178.6H560.6V1178.6H562.2V1178.6H563.9V1178.6H565.5V1178.7H567.2V1178.7H568.8V1178.7H570.5V1178.8H572.1V1178.8H573.7V1178.8H575.4V1178.9H577.0V1178.9H578.7V1179.0H580.3V1179.2H582.0V1179.4H583.6V1179.6H585.3V1179.8H586.9V1180.1H588.6V1180.3H590.2V1180.5H591.9V1180.7H593.5V1180.9H595.2V1181.1H596.8V1181.3H598.5V1181.5H600.1V1181.6ZM601.93 1181.6V1181.4H603.6V1181.1H605.2V1180.7H606.9V1180.4H608.6V1180.0H610.2V1179.7H611.9V1179.3H613.5V1179.0H615.2V1178.6H616.8V1178.3H618.5V1178.3H620.2V1178.4H621.8V1178.6H623.5V1178.7H625.1V1178.9H626.8V1179.0H628.4V1179.2H630.1V1179.3H631.8V1179.5H633.4V1179.6H635.1V1179.8H636.7V1179.8H638.4V1179.8H640.0V1179.8H641.7V1179.8H643.4V1179.8H645.0V1179.8H646.7V1179.8H648.3V1179.6H650.0V1178.8H651.7V1177.9H653.3V1177.1H655.0V1176.3H656.6V1175.4H658.3V1175.7H659.9V1176.2H661.6V1176.7H663.3V1177.2H664.9V1177.7H666.6V1178.1H668.2V1178.6H669.9V1179.1H671.5V1179.6H673.2V1180.1H674.9V1181.6Z" fill="#a8cf84"/><line x1="82.5" y1="1183.9" x2="674.9" y2="1183.9" stroke="#d7d7d7" stroke-width="2"/><text x="-1.3" y="1168" font-size="19" textLength="77" lengthAdjust="spacingAndGlyphs">PKNOX1</text><text x="594.3" y="1140.7" font-size="14.5" text-anchor="end" textLength="37.8" lengthAdjust="spacingAndGlyphs">[0,15]</text><path d="M82.48 1241V1229.7H84.1V1228.7H85.8V1227.7H87.4V1226.8H89.1V1225.8H90.7V1227.5H92.4V1229.5H94.0V1230.6H95.7V1228.2H97.3V1225.7H99.0V1223.8H100.6V1221.8H102.3V1219.9H103.9V1220.1H105.6V1221.0H107.2V1221.9H108.9V1222.8H110.5V1223.7H112.2V1224.3H113.8V1224.9H115.5V1225.4H117.1V1226.0H118.8V1226.5H120.4V1227.1H122.1V1228.1H123.7V1230.3H125.4V1232.5H127.0V1234.7H128.7V1234.7H130.3V1234.7H132.0V1234.7H133.6V1233.6H135.3V1232.1H136.9V1230.6H138.6V1229.1H140.2V1227.6H141.9V1226.1H143.5V1226.6H145.2V1228.0H146.8V1229.3H148.5V1228.6H150.1V1228.0H151.8V1228.2H153.4V1230.8H155.1V1233.4H156.7V1236.0H158.4V1236.9H160.0V1235.8H161.7V1234.7H163.3V1233.7H165.0V1233.0H166.6V1232.4H168.3V1233.3H169.9V1236.3H171.6V1239.3H173.2V1239.0H174.9V1237.5H176.5V1235.9H178.2V1235.0H179.8V1234.7H181.5V1234.5H183.1V1234.3H184.8V1234.0H186.4V1233.8H188.1V1230.8H189.7V1227.8H191.4V1224.8H193.0V1220.6H194.7V1216.0H196.3V1211.4H198.0V1213.0H199.6V1217.7H201.3V1222.5H202.9V1224.7H204.6V1225.9H206.2V1227.1H207.9V1228.3H209.5V1230.1H211.2V1232.0H212.8V1233.8H214.5V1235.2H216.1V1228.9H217.8V1222.6H219.4V1217.2H221.1V1213.5H222.7V1209.8H224.4V1206.1H226.0V1202.4H227.7V1201.6H229.3V1205.5H231.0V1212.6H232.6V1221.0H234.3V1236.5H235.9V1236.5H237.6V1236.5H239.2V1236.5H240.9V1236.4H242.5V1235.9H244.2V1235.4H245.8V1234.9H247.5V1234.4H249.1V1233.9H250.8V1234.0H252.4V1234.3H254.1V1234.6H255.7V1234.8H257.4V1235.1H259.0V1235.4H260.7V1234.9H262.3V1232.0H264.0V1229.1H265.6V1224.8H267.3V1220.5H268.9V1219.4H270.6V1225.0H272.2V1230.6H273.9V1233.1H275.5V1233.6H277.2V1233.2H278.8V1231.8H280.5V1230.3H282.1V1228.9H283.8V1227.5H285.4V1226.8H287.1V1226.2H288.7V1225.6H290.4V1225.0H292.0V1225.9H293.7V1227.6H295.3V1229.2H297.0V1230.5H298.6V1231.4H300.3V1232.2H301.9V1233.0H303.6V1233.8H305.2V1234.7H306.9V1232.1H308.5V1229.5H310.2V1226.8H311.8V1224.1H313.5V1223.6H315.1V1224.6H316.8V1225.6H318.4V1226.5H320.1V1227.5H321.7V1228.7H323.4V1230.7H325.0V1232.8H326.7V1234.9H328.3V1236.9H330.0V1236.8H331.6V1235.9H333.3V1235.1H334.9V1234.3H336.6V1233.5H338.2V1232.8H339.9V1232.4H341.5V1231.9H343.2V1231.5H344.8V1231.1H346.5V1231.7H348.1V1232.3H349.8V1232.9H351.4V1233.5H353.1V1232.1H354.7V1229.1H356.4V1226.2H358.0V1223.2H359.7V1220.6H361.3V1218.8H363.0V1218.8H364.6V1222.7H366.3V1226.6H367.9V1230.5H369.6V1234.5H371.2V1232.9H372.9V1231.0H374.5V1229.2H376.2V1227.4H377.8V1226.8H379.5V1226.2H381.1V1225.6H382.8V1224.9H384.4V1221.4H386.1V1216.8H387.7V1203.6H389.4V1192.8H391.0V1197.8H392.7V1209.0H394.3V1225.5H396.0V1238.9H397.6V1236.0H399.3V1233.1H400.9V1223.7H402.6V1214.7H404.2V1208.1H405.9V1205.3H407.5V1205.9H409.2V1210.2H410.8V1217.3H412.5V1223.5H414.1V1229.4H415.8V1234.6H417.4V1233.8H419.1V1233.0H420.7V1232.1H422.4V1231.3H424.0V1230.5H425.7V1231.0H427.3V1232.2H429.0V1233.5H430.6V1234.7H432.3V1235.4H433.9V1234.9H435.6V1234.3H437.2V1233.8H438.9V1230.7H440.5V1227.6H442.2V1224.6H443.8V1222.7H445.5V1225.7H447.1V1228.8H448.8V1231.9H450.4V1233.7H452.1V1233.5H453.7V1233.3H455.4V1233.1H457.0V1232.9H458.7V1234.8H460.3V1236.7H462.0V1238.6H463.6V1239.9H465.3V1238.9H466.9V1237.8H468.6V1236.8H470.2V1235.7H471.9V1234.7H473.5V1233.7H475.2V1233.1H476.8V1232.4H478.5V1231.8H480.1V1231.2H481.8V1230.6H483.4V1230.0H485.1V1229.4H486.7V1228.7H488.4V1229.1H490.0V1230.8H491.7V1232.4H493.3V1234.1H495.0V1235.5H496.6V1234.1H498.3V1232.8H499.9V1231.4H501.6V1230.1H503.2V1228.8H504.9V1227.4H506.5V1226.1H508.2V1225.7H509.9V1226.4H511.5V1227.2H513.2V1227.9H514.8V1228.6H516.5V1229.4H518.1V1230.1H519.8V1231.5H521.4V1233.0H523.1V1234.5H524.7V1236.0H526.4V1237.5H528.0V1238.2H529.7V1238.1H531.3V1237.9H533.0V1237.7H534.6V1237.6H536.3V1237.4H537.9V1234.1H539.6V1230.8H541.2V1227.5H542.9V1224.2H544.5V1220.9H546.2V1217.6H547.8V1221.5H549.5V1225.5H551.1V1229.6H552.8V1233.0H554.4V1233.4H556.1V1233.8H557.7V1234.2H559.4V1234.6H561.0V1233.8H562.7V1232.7H564.3V1231.6H566.0V1230.5H567.6V1229.4H569.3V1231.2H570.9V1233.3H572.6V1235.4H574.2V1237.4H575.9V1237.8H577.5V1238.1H579.2V1238.5H580.8V1238.8H582.5V1239.2H584.1V1239.5H585.8V1239.9H587.4V1239.2H589.1V1237.2H590.7V1235.2H592.4V1233.2H594.0V1231.2H595.7V1229.2H597.3V1227.2H599.0V1225.2H600.6V1226.0H602.3V1227.4H603.9V1228.9H605.6V1230.4H607.2V1231.8H608.9V1231.2H610.5V1230.2H612.2V1229.3H613.8V1228.5H615.5V1230.8H617.1V1233.1H618.8V1235.3H620.4V1237.6H622.1V1237.8H623.7V1237.1H625.4V1236.4H627.0V1235.6H628.7V1234.9H630.3V1234.2H632.0V1233.5H633.6V1232.7H635.3V1232.0H636.9V1232.3H638.6V1232.5H640.2V1232.8H641.9V1233.1H643.5V1233.4H645.2V1233.6H646.8V1233.7H648.5V1233.5H650.1V1233.4H651.8V1233.2H653.4V1233.0H655.1V1232.8H656.7V1232.7H658.4V1232.9H660.0V1233.9H661.7V1235.0H663.3V1236.1H665.0V1237.1H666.6V1238.2H668.3V1239.3H669.9V1240.1H671.6V1240.3H673.2V1240.5H674.9V1241Z" fill="#df4a5f"/><text x="-1.3" y="1233.8" font-size="19" textLength="56.5" lengthAdjust="spacingAndGlyphs">BCOR</text><text x="594.3" y="1198.4" font-size="14.5" text-anchor="end" textLength="29.2" lengthAdjust="spacingAndGlyphs">[0,7]</text><text x="744.3" y="30.6" font-size="42" font-weight="bold">b</text><text x="826.2" y="102.6" font-size="19" textLength="81" lengthAdjust="spacingAndGlyphs">ZNF321p</text><text x="954.5" y="102.4" font-size="19" textLength="71" lengthAdjust="spacingAndGlyphs">ZNF320</text><text x="1073.6" y="102.4" font-size="19" textLength="71" lengthAdjust="spacingAndGlyphs">ZNF888</text><line x1="818" y1="193.05" x2="818" y2="425.9" stroke="#000" stroke-width="3.8"/><line x1="811.7" y1="194.95" x2="819.9" y2="194.95" stroke="#000" stroke-width="3.8"/><text x="803.7" y="200.85" font-size="19.5" text-anchor="end">1.5</text><line x1="811.7" y1="271.3" x2="819.9" y2="271.3" stroke="#000" stroke-width="3.8"/><text x="803.7" y="277.2" font-size="19.5" text-anchor="end">1.0</text><line x1="811.7" y1="347.65" x2="819.9" y2="347.65" stroke="#000" stroke-width="3.8"/><text x="803.7" y="353.55" font-size="19.5" text-anchor="end">0.5</text><line x1="811.7" y1="424" x2="819.9" y2="424" stroke="#000" stroke-width="3.8"/><text x="803.7" y="429.9" font-size="19.5" text-anchor="end">0.0</text><line x1="816" y1="424" x2="1154" y2="424" stroke="#000" stroke-width="3.8"/><text transform="translate(761.4,307.7) rotate(-90)" x="0" y="0" font-size="19" text-anchor="middle" textLength="167.5" lengthAdjust="spacingAndGlyphs">Relative expression</text><rect x="829" y="269.4" width="22" height="154.6" fill="#000"/><rect x="859.4" y="329.9" width="22" height="94.1" fill="#adadaf"/><rect x="889.7" y="359" width="22" height="65" fill="#00a4a7"/><rect x="948.6" y="280.8" width="22" height="143.2" fill="#000"/><rect x="979.1" y="330" width="22" height="94" fill="#adadaf"/><rect x="1009.5" y="351.7" width="22" height="72.3" fill="#00a4a7"/><rect x="1068.5" y="271" width="22" height="153" fill="#000"/><rect x="1098.8" y="321.6" width="22" height="102.4" fill="#adadaf"/><rect x="1128.9" y="341" width="22" height="83" fill="#00a4a7"/><circle cx="839.3" cy="195.5" r="2.5" fill="#f74ff2"/><circle cx="839.3" cy="231.3" r="2.5" fill="#f74ff2"/><circle cx="839.3" cy="239" r="2.5" fill="#f74ff2"/><circle cx="839.3" cy="317" r="2.5" fill="#f74ff2"/><circle cx="831.1" cy="318.8" r="2.5" fill="#f74ff2"/><circle cx="848.3" cy="317.5" r="2.5" fill="#f74ff2"/><circle cx="870.2" cy="267.3" r="2.5" fill="#f74ff2"/><circle cx="870.2" cy="296.7" r="2.5" fill="#f74ff2"/><circle cx="870.2" cy="310.6" r="2.5" fill="#f74ff2"/><circle cx="865.8" cy="341.5" r="2.5" fill="#f74ff2"/><circle cx="874.8" cy="342" r="2.5" fill="#f74ff2"/><circle cx="870.2" cy="350.7" r="2.5" fill="#f74ff2"/><circle cx="870.2" cy="357.4" r="2.5" fill="#f74ff2"/><circle cx="870.2" cy="375" r="2.5" fill="#f74ff2"/><circle cx="900.6" cy="325" r="2.5" fill="#f74ff2"/><circle cx="900.6" cy="369.3" r="2.5" fill="#f74ff2"/><circle cx="900.6" cy="383.5" r="2.5" fill="#f74ff2"/><circle cx="954.7" cy="240.6" r="2.5" fill="#f74ff2"/><circle cx="963.7" cy="238.6" r="2.5" fill="#f74ff2"/><circle cx="959.2" cy="264.2" r="2.5" fill="#f74ff2"/><circle cx="954.7" cy="278.5" r="2.5" fill="#f74ff2"/><circle cx="963.7" cy="282.9" r="2.5" fill="#f74ff2"/><circle cx="959.2" cy="289.5" r="2.5" fill="#f74ff2"/><circle cx="959.2" cy="322.2" r="2.5" fill="#f74ff2"/><circle cx="959.2" cy="329.7" r="2.5" fill="#f74ff2"/><circle cx="989.6" cy="277.6" r="2.5" fill="#f74ff2"/><circle cx="989.6" cy="299.3" r="2.5" fill="#f74ff2"/><circle cx="994" cy="305.9" r="2.5" fill="#f74ff2"/><circle cx="985.1" cy="309.1" r="2.5" fill="#f74ff2"/><circle cx="989.6" cy="320.7" r="2.5" fill="#f74ff2"/><circle cx="989.6" cy="330.6" r="2.5" fill="#f74ff2"/><circle cx="994" cy="337.1" r="2.5" fill="#f74ff2"/><circle cx="985.1" cy="340.4" r="2.5" fill="#f74ff2"/><circle cx="994" cy="343.4" r="2.5" fill="#f74ff2"/><circle cx="989.6" cy="350.8" r="2.5" fill="#f74ff2"/><circle cx="989.6" cy="359.5" r="2.5" fill="#f74ff2"/><circle cx="989.6" cy="386.6" r="2.5" fill="#f74ff2"/><circle cx="1020.2" cy="333" r="2.5" fill="#f74ff2"/><circle cx="1020.2" cy="343.4" r="2.5" fill="#f74ff2"/><circle cx="1020.2" cy="358.9" r="2.5" fill="#f74ff2"/><circle cx="1020.2" cy="371.7" r="2.5" fill="#f74ff2"/><circle cx="1078.9" cy="237.4" r="2.5" fill="#f74ff2"/><circle cx="1078.9" cy="249.6" r="2.5" fill="#f74ff2"/><circle cx="1070.6" cy="266.5" r="2.5" fill="#f74ff2"/><circle cx="1078.9" cy="266.5" r="2.5" fill="#f74ff2"/><circle cx="1087.2" cy="266.5" r="2.5" fill="#f74ff2"/><circle cx="1087.2" cy="272.5" r="2.5" fill="#f74ff2"/><circle cx="1078.9" cy="293.9" r="2.5" fill="#f74ff2"/><circle cx="1078.9" cy="315.1" r="2.5" fill="#f74ff2"/><circle cx="1109.6" cy="240.3" r="2.5" fill="#f74ff2"/><circle cx="1109.6" cy="248.7" r="2.5" fill="#f74ff2"/><circle cx="1109.6" cy="299.9" r="2.5" fill="#f74ff2"/><circle cx="1105.7" cy="319" r="2.5" fill="#f74ff2"/><circle cx="1113.7" cy="319" r="2.5" fill="#f74ff2"/><circle cx="1101.2" cy="331" r="2.5" fill="#f74ff2"/><circle cx="1109.6" cy="332" r="2.5" fill="#f74ff2"/><circle cx="1117.6" cy="332" r="2.5" fill="#f74ff2"/><circle cx="1109.6" cy="366.3" r="2.5" fill="#f74ff2"/><circle cx="1105.7" cy="374.5" r="2.5" fill="#f74ff2"/><circle cx="1113.7" cy="373" r="2.5" fill="#f74ff2"/><circle cx="1140" cy="327.6" r="2.5" fill="#f74ff2"/><circle cx="1140" cy="334.4" r="2.5" fill="#f74ff2"/><circle cx="1140" cy="345.5" r="2.5" fill="#f74ff2"/><circle cx="1140" cy="358" r="2.5" fill="#f74ff2"/><path d="M841.4,157.5 L841.4,150 L900.6,150 L900.6,251.3" fill="none" stroke="#000" stroke-width="1.8"/><text x="839" y="141" font-size="14.5" textLength="70.9" lengthAdjust="spacingAndGlyphs"><tspan font-style="italic">p</tspan> = 0.0261</text><path d="M840.1,189.3 L840.1,181.3 L870.2,181.3 L870.2,232" fill="none" stroke="#000" stroke-width="1.8"/><text x="816.9" y="174.8" font-size="14.5" textLength="72" lengthAdjust="spacingAndGlyphs"><tspan font-style="italic">p</tspan> = 0.0498</text><path d="M958.3,192.1 L958.3,183.1 L1020.8,183.1 L1020.8,260.6" fill="none" stroke="#000" stroke-width="1.8"/><text x="954.1" y="174.8" font-size="14.5" textLength="72.1" lengthAdjust="spacingAndGlyphs"><tspan font-style="italic">p</tspan> = 0.0022</text><path d="M959.2,226.3 L959.2,218 L991,218 L991,249.3" fill="none" stroke="#000" stroke-width="1.8"/><text x="938.6" y="211.5" font-size="14.5" textLength="72.1" lengthAdjust="spacingAndGlyphs"><tspan font-style="italic">p</tspan> = 0.0039</text><path d="M1078.3,172.7 L1078.3,164.7 L1137.6,164.7 L1137.6,236.8" fill="none" stroke="#000" stroke-width="1.8"/><text x="1068.2" y="156.4" font-size="14.5" textLength="71.7" lengthAdjust="spacingAndGlyphs"><tspan font-style="italic">p</tspan> = 0.0108</text><path d="M1078.3,227.2 L1078.3,204 L1109.6,204 L1109.6,227.2" fill="none" stroke="#000" stroke-width="1.8"/><text x="1057.7" y="200.1" font-size="14.5" textLength="70.3" lengthAdjust="spacingAndGlyphs"><tspan font-style="italic">p</tspan> = 0.0161</text><text x="1164.5" y="130.2" font-size="19" textLength="111.5" lengthAdjust="spacingAndGlyphs">Ch19-LTR5B</text><rect x="1174" y="145" width="28.4" height="16.9" fill="#000"/><text x="1211.3" y="158.4" font-size="19">(+/+)</text><rect x="1174" y="177.1" width="28.4" height="17.5" fill="#adadaf"/><text x="1211.3" y="190.5" font-size="19">(+/–)</text><rect x="1174" y="209.5" width="28.4" height="17.2" fill="#00a4a7"/><text x="1211.3" y="223.5" font-size="19">(–/–)</text><text x="1409.2" y="122.7" font-size="19" textLength="82" lengthAdjust="spacingAndGlyphs">ZNF321p</text><line x1="1360.8" y1="137.45" x2="1360.8" y2="366.55" stroke="#000" stroke-width="3.3"/><line x1="1352.4" y1="139.1" x2="1362.45" y2="139.1" stroke="#000" stroke-width="3.3"/><text x="1343.1" y="145.6" font-size="19" text-anchor="end">10</text><line x1="1352.4" y1="195.55" x2="1362.45" y2="195.55" stroke="#000" stroke-width="3.3"/><text x="1343.1" y="202.05" font-size="19" text-anchor="end">5</text><line x1="1352.4" y1="252" x2="1362.45" y2="252" stroke="#000" stroke-width="3.3"/><text x="1343.1" y="258.5" font-size="19" text-anchor="end">0</text><line x1="1352.4" y1="308.45" x2="1362.45" y2="308.45" stroke="#000" stroke-width="3.3"/><text x="1343.1" y="314.95" font-size="19" text-anchor="end">−5</text><line x1="1352.4" y1="364.9" x2="1362.45" y2="364.9" stroke="#000" stroke-width="3.3"/><text x="1343.1" y="371.4" font-size="19" text-anchor="end">−10</text><line x1="1352.4" y1="364.9" x2="1538.1" y2="364.9" stroke="#000" stroke-width="3.4"/><text transform="translate(1296.6,252.9) rotate(-90)" x="0" y="0" font-size="19" text-anchor="middle" textLength="143" lengthAdjust="spacingAndGlyphs">Log2 Expression</text><line x1="1388.85" y1="186.8" x2="1388.85" y2="192.9" stroke="#000" stroke-width="3.4"/><line x1="1382" y1="186.8" x2="1395.7" y2="186.8" stroke="#000" stroke-width="3.4" stroke-linecap="round"/><line x1="1388.85" y1="266.7" x2="1388.85" y2="315.8" stroke="#000" stroke-width="3.4"/><line x1="1382" y1="315.8" x2="1395.7" y2="315.8" stroke="#000" stroke-width="3.4" stroke-linecap="round"/><rect x="1375" y="194.6" width="27.7" height="70.4" fill="#f2c6ec" stroke="#000" stroke-width="3.4"/><line x1="1375" y1="199.5" x2="1402.7" y2="199.5" stroke="#000" stroke-width="3.4"/><line x1="1430.55" y1="234.3" x2="1430.55" y2="236.5" stroke="#000" stroke-width="3.4"/><line x1="1423.8" y1="234.3" x2="1437.3" y2="234.3" stroke="#000" stroke-width="3.4" stroke-linecap="round"/><line x1="1430.55" y1="245.9" x2="1430.55" y2="249.8" stroke="#000" stroke-width="3.4"/><line x1="1423.8" y1="249.8" x2="1437.3" y2="249.8" stroke="#000" stroke-width="3.4" stroke-linecap="round"/><rect x="1416.8" y="238.2" width="27.5" height="6" fill="#000" stroke="#000" stroke-width="3.4"/><line x1="1416.8" y1="241.2" x2="1444.3" y2="241.2" stroke="#000" stroke-width="3.4"/><line x1="1472.5" y1="224.4" x2="1472.5" y2="228.1" stroke="#000" stroke-width="3.4"/><line x1="1465.7" y1="224.4" x2="1479.2" y2="224.4" stroke="#000" stroke-width="3.4" stroke-linecap="round"/><line x1="1472.5" y1="239.3" x2="1472.5" y2="243.5" stroke="#000" stroke-width="3.4"/><line x1="1465.7" y1="243.5" x2="1479.2" y2="243.5" stroke="#000" stroke-width="3.4" stroke-linecap="round"/><rect x="1458.8" y="229.8" width="27.4" height="7.8" fill="#7352b8" stroke="#000" stroke-width="3.4"/><line x1="1458.8" y1="236.8" x2="1486.2" y2="236.8" stroke="#000" stroke-width="3.4"/><line x1="1514.2" y1="194.1" x2="1514.2" y2="201.8" stroke="#000" stroke-width="3.4"/><line x1="1507.4" y1="194.1" x2="1521.2" y2="194.1" stroke="#000" stroke-width="3.4" stroke-linecap="round"/><line x1="1514.2" y1="215.8" x2="1514.2" y2="229.9" stroke="#000" stroke-width="3.4"/><line x1="1507.4" y1="229.9" x2="1521.2" y2="229.9" stroke="#000" stroke-width="3.4" stroke-linecap="round"/><rect x="1500.2" y="203.5" width="28" height="10.6" fill="#fa2d4e" stroke="#000" stroke-width="3.4"/><line x1="1500.2" y1="208.5" x2="1528.2" y2="208.5" stroke="#000" stroke-width="3.4"/><text x="1644.6" y="122.7" font-size="19" textLength="71" lengthAdjust="spacingAndGlyphs">ZNF320</text><line x1="1593.2" y1="133.65" x2="1593.2" y2="363.35" stroke="#000" stroke-width="3.3"/><line x1="1584.8" y1="135.3" x2="1594.85" y2="135.3" stroke="#000" stroke-width="3.3"/><text x="1575.1" y="141.8" font-size="19" text-anchor="end">6</text><line x1="1584.8" y1="191.9" x2="1594.85" y2="191.9" stroke="#000" stroke-width="3.3"/><text x="1575.1" y="198.4" font-size="19" text-anchor="end">4</text><line x1="1584.8" y1="248.5" x2="1594.85" y2="248.5" stroke="#000" stroke-width="3.3"/><text x="1575.1" y="255" font-size="19" text-anchor="end">2</text><line x1="1584.8" y1="305.1" x2="1594.85" y2="305.1" stroke="#000" stroke-width="3.3"/><text x="1575.1" y="311.6" font-size="19" text-anchor="end">0</text><line x1="1584.8" y1="361.7" x2="1594.85" y2="361.7" stroke="#000" stroke-width="3.3"/><text x="1575.1" y="368.2" font-size="19" text-anchor="end">−2</text><line x1="1584.8" y1="361.7" x2="1770.4" y2="361.7" stroke="#000" stroke-width="3.4"/><line x1="1620.4" y1="175.9" x2="1620.4" y2="184.6" stroke="#000" stroke-width="3.4"/><line x1="1613.7" y1="175.9" x2="1627.1" y2="175.9" stroke="#000" stroke-width="3.4" stroke-linecap="round"/><line x1="1620.4" y1="250.5" x2="1620.4" y2="275.1" stroke="#000" stroke-width="3.4"/><line x1="1613.7" y1="275.1" x2="1627.1" y2="275.1" stroke="#000" stroke-width="3.4" stroke-linecap="round"/><rect x="1606.9" y="186.3" width="27" height="62.5" fill="#f2c6ec" stroke="#000" stroke-width="3.4"/><line x1="1606.9" y1="227.2" x2="1633.9" y2="227.2" stroke="#000" stroke-width="3.4"/><line x1="1661.55" y1="256.3" x2="1661.55" y2="265.7" stroke="#000" stroke-width="3.4"/><line x1="1654.7" y1="256.3" x2="1667.9" y2="256.3" stroke="#000" stroke-width="3.4" stroke-linecap="round"/><line x1="1661.55" y1="317.5" x2="1661.55" y2="325.3" stroke="#000" stroke-width="3.4"/><line x1="1654.7" y1="325.3" x2="1667.9" y2="325.3" stroke="#000" stroke-width="3.4" stroke-linecap="round"/><rect x="1647.9" y="267.4" width="27.3" height="48.4" fill="#f3901a" stroke="#000" stroke-width="3.4"/><line x1="1647.9" y1="282.2" x2="1675.2" y2="282.2" stroke="#000" stroke-width="3.4"/><line x1="1702.05" y1="207.1" x2="1702.05" y2="210.7" stroke="#000" stroke-width="3.4"/><line x1="1695.2" y1="207.1" x2="1708.8" y2="207.1" stroke="#000" stroke-width="3.4" stroke-linecap="round"/><line x1="1702.05" y1="232.8" x2="1702.05" y2="249.4" stroke="#000" stroke-width="3.4"/><line x1="1695.2" y1="249.4" x2="1708.8" y2="249.4" stroke="#000" stroke-width="3.4" stroke-linecap="round"/><rect x="1688.4" y="212.4" width="27.3" height="18.7" fill="#7352b8" stroke="#000" stroke-width="3.4"/><line x1="1688.4" y1="220" x2="1715.7" y2="220" stroke="#000" stroke-width="3.4"/><line x1="1743.1" y1="183.9" x2="1743.1" y2="196.9" stroke="#000" stroke-width="3.4"/><line x1="1736.5" y1="183.9" x2="1749.8" y2="183.9" stroke="#000" stroke-width="3.4" stroke-linecap="round"/><line x1="1743.1" y1="221.8" x2="1743.1" y2="243.7" stroke="#000" stroke-width="3.4"/><line x1="1736.5" y1="243.7" x2="1749.8" y2="243.7" stroke="#000" stroke-width="3.4" stroke-linecap="round"/><rect x="1729.6" y="198.6" width="27" height="21.5" fill="#fa2d4e" stroke="#000" stroke-width="3.4"/><line x1="1729.6" y1="207.2" x2="1756.6" y2="207.2" stroke="#000" stroke-width="3.4"/><text x="1873.6" y="122.7" font-size="19" textLength="71" lengthAdjust="spacingAndGlyphs">ZNF888</text><line x1="1821.2" y1="134.25" x2="1821.2" y2="363.05" stroke="#000" stroke-width="3.3"/><line x1="1813" y1="135.9" x2="1822.85" y2="135.9" stroke="#000" stroke-width="3.3"/><text x="1803.8" y="142.4" font-size="19" text-anchor="end">2</text><line x1="1813" y1="181" x2="1822.85" y2="181" stroke="#000" stroke-width="3.3"/><text x="1803.8" y="187.5" font-size="19" text-anchor="end">0</text><line x1="1813" y1="226.1" x2="1822.85" y2="226.1" stroke="#000" stroke-width="3.3"/><text x="1803.8" y="232.6" font-size="19" text-anchor="end">−2</text><line x1="1813" y1="271.2" x2="1822.85" y2="271.2" stroke="#000" stroke-width="3.3"/><text x="1803.8" y="277.7" font-size="19" text-anchor="end">−4</text><line x1="1813" y1="316.3" x2="1822.85" y2="316.3" stroke="#000" stroke-width="3.3"/><text x="1803.8" y="322.8" font-size="19" text-anchor="end">−6</text><line x1="1813" y1="361.4" x2="1822.85" y2="361.4" stroke="#000" stroke-width="3.3"/><text x="1803.8" y="367.9" font-size="19" text-anchor="end">−8</text><line x1="1813.2" y1="361.4" x2="1999" y2="361.4" stroke="#000" stroke-width="3.4"/><line x1="1834.9" y1="330.9" x2="1862.2" y2="330.9" stroke="#000" stroke-width="3.6" stroke-linecap="round"/><line x1="1889.45" y1="195.6" x2="1889.45" y2="201.9" stroke="#000" stroke-width="3.4"/><line x1="1882.6" y1="195.6" x2="1896.2" y2="195.6" stroke="#000" stroke-width="3.4" stroke-linecap="round"/><line x1="1889.45" y1="256.1" x2="1889.45" y2="263.1" stroke="#000" stroke-width="3.4"/><line x1="1882.6" y1="263.1" x2="1896.2" y2="263.1" stroke="#000" stroke-width="3.4" stroke-linecap="round"/><rect x="1875.8" y="203.6" width="27.3" height="50.8" fill="#f3901a" stroke="#000" stroke-width="3.4"/><line x1="1875.8" y1="228.1" x2="1903.1" y2="228.1" stroke="#000" stroke-width="3.4"/><line x1="1930.45" y1="187.5" x2="1930.45" y2="191" stroke="#000" stroke-width="3.4"/><line x1="1923.7" y1="187.5" x2="1937.3" y2="187.5" stroke="#000" stroke-width="3.4" stroke-linecap="round"/><line x1="1930.45" y1="201.7" x2="1930.45" y2="206.1" stroke="#000" stroke-width="3.4"/><line x1="1923.7" y1="206.1" x2="1937.3" y2="206.1" stroke="#000" stroke-width="3.4" stroke-linecap="round"/><rect x="1916.8" y="192.7" width="27.3" height="7.3" fill="#7352b8" stroke="#000" stroke-width="3.4"/><line x1="1916.8" y1="199.2" x2="1944.1" y2="199.2" stroke="#000" stroke-width="3.4"/><line x1="1971.5" y1="152.6" x2="1971.5" y2="156.9" stroke="#000" stroke-width="3.4"/><line x1="1964.7" y1="152.6" x2="1978.3" y2="152.6" stroke="#000" stroke-width="3.4" stroke-linecap="round"/><line x1="1971.5" y1="180.1" x2="1971.5" y2="217.9" stroke="#000" stroke-width="3.4"/><line x1="1964.7" y1="217.9" x2="1978.3" y2="217.9" stroke="#000" stroke-width="3.4" stroke-linecap="round"/><rect x="1957.9" y="158.6" width="27.2" height="19.8" fill="#fa2d4e" stroke="#000" stroke-width="3.4"/><line x1="1957.9" y1="164.5" x2="1985.1" y2="164.5" stroke="#000" stroke-width="3.4"/><rect x="1389.6" y="394.6" width="25.2" height="13.8" fill="#f2c6ec" stroke="#000" stroke-width="3"/><text x="1425.2" y="408.1" font-size="19.4">HSC</text><rect x="1515.5" y="394" width="24.6" height="14" fill="#f3901a" stroke="#000" stroke-width="3"/><text x="1550" y="408.1" font-size="19.4">Monocyte</text><rect x="1672.5" y="393.1" width="24.2" height="13.8" fill="#7352b8" stroke="#000" stroke-width="3"/><text x="1706.6" y="408.1" font-size="19.4">Macrophage</text><rect x="1853.5" y="393.1" width="24" height="13.8" fill="#fa2d4e" stroke="#000" stroke-width="3"/><text x="1889.4" y="408.1" font-size="19.4">AML</text><text x="743.8" y="547" font-size="42" font-weight="bold">c</text><text x="856" y="550.7" font-size="19" textLength="68.4" lengthAdjust="spacingAndGlyphs">RPL7L1</text><line x1="829" y1="587.9" x2="829" y2="818.2" stroke="#000" stroke-width="3.8"/><line x1="822.7" y1="589.8" x2="830.9" y2="589.8" stroke="#000" stroke-width="3.8"/><text x="815.2" y="595.7" font-size="19.5" text-anchor="end">1.5</text><line x1="822.7" y1="665.3" x2="830.9" y2="665.3" stroke="#000" stroke-width="3.8"/><text x="815.2" y="671.2" font-size="19.5" text-anchor="end">1.0</text><line x1="822.7" y1="740.8" x2="830.9" y2="740.8" stroke="#000" stroke-width="3.8"/><text x="815.2" y="746.7" font-size="19.5" text-anchor="end">0.5</text><line x1="822.7" y1="816.3" x2="830.9" y2="816.3" stroke="#000" stroke-width="3.8"/><text x="815.2" y="822.2" font-size="19.5" text-anchor="end">0.0</text><line x1="823.7" y1="816.3" x2="933.1" y2="816.3" stroke="#000" stroke-width="3.8"/><text transform="translate(773.3,702.2) rotate(-90)" x="0" y="0" font-size="19" text-anchor="middle" textLength="169" lengthAdjust="spacingAndGlyphs">Relative Expression</text><rect x="845" y="665.2" width="28.8" height="151.1" fill="#000"/><rect x="889.3" y="736" width="29.1" height="80.3" fill="#adadaf"/><circle cx="859.2" cy="598.3" r="2.5" fill="#f74ff2"/><circle cx="854.8" cy="643" r="2.5" fill="#f74ff2"/><circle cx="864.1" cy="643" r="2.5" fill="#f74ff2"/><circle cx="859.2" cy="649.5" r="2.5" fill="#f74ff2"/><circle cx="859.2" cy="674.7" r="2.5" fill="#f74ff2"/><circle cx="850.7" cy="678.1" r="2.5" fill="#f74ff2"/><circle cx="868.2" cy="678.1" r="2.5" fill="#f74ff2"/><circle cx="859.2" cy="682.5" r="2.5" fill="#f74ff2"/><circle cx="859.2" cy="741.7" r="2.5" fill="#f74ff2"/><circle cx="903.7" cy="663.7" r="2.5" fill="#f74ff2"/><circle cx="903.7" cy="674.7" r="2.5" fill="#f74ff2"/><circle cx="903.7" cy="714.6" r="2.5" fill="#f74ff2"/><circle cx="903.7" cy="734.5" r="2.5" fill="#f74ff2"/><circle cx="903.7" cy="747.3" r="2.5" fill="#f74ff2"/><circle cx="903.7" cy="757.1" r="2.5" fill="#f74ff2"/><circle cx="899.6" cy="771.3" r="2.5" fill="#f74ff2"/><circle cx="908.1" cy="771.3" r="2.5" fill="#f74ff2"/><circle cx="903.7" cy="788" r="2.5" fill="#f74ff2"/><path d="M858.9,584.6 L858.9,577.4 L904,577.4 L904,628.4" fill="none" stroke="#000" stroke-width="1.8"/><text x="845.7" y="571.8" font-size="14.5" textLength="72.3" lengthAdjust="spacingAndGlyphs"><tspan font-style="italic">p</tspan> = 0.0023</text><text x="957.2" y="564.6" font-size="19" textLength="100.5" lengthAdjust="spacingAndGlyphs">Ch6-LTR5B</text><rect x="962.1" y="575.1" width="28.1" height="16.8" fill="#000"/><text x="1000.6" y="588.5" font-size="19">(+/+)</text><rect x="962.1" y="607.3" width="28.1" height="16.7" fill="#adadaf"/><text x="1000.6" y="620.7" font-size="19">(+/–)</text><text x="1266.1" y="571.4" font-size="19" textLength="68.9" lengthAdjust="spacingAndGlyphs">RPL7L1</text><line x1="1188.9" y1="586.15" x2="1188.9" y2="814.95" stroke="#000" stroke-width="3.3"/><line x1="1180.3" y1="587.8" x2="1190.55" y2="587.8" stroke="#000" stroke-width="3.3"/><text x="1170.9" y="594.3" font-size="19" text-anchor="end">8</text><line x1="1180.3" y1="632.9" x2="1190.55" y2="632.9" stroke="#000" stroke-width="3.3"/><text x="1170.9" y="639.4" font-size="19" text-anchor="end">7</text><line x1="1180.3" y1="678" x2="1190.55" y2="678" stroke="#000" stroke-width="3.3"/><text x="1170.9" y="684.5" font-size="19" text-anchor="end">6</text><line x1="1180.3" y1="723.1" x2="1190.55" y2="723.1" stroke="#000" stroke-width="3.3"/><text x="1170.9" y="729.6" font-size="19" text-anchor="end">5</text><line x1="1180.3" y1="768.2" x2="1190.55" y2="768.2" stroke="#000" stroke-width="3.3"/><text x="1170.9" y="774.7" font-size="19" text-anchor="end">4</text><line x1="1180.3" y1="813.3" x2="1190.55" y2="813.3" stroke="#000" stroke-width="3.3"/><text x="1170.9" y="819.8" font-size="19" text-anchor="end">3</text><line x1="1180.3" y1="813.3" x2="1410.2" y2="813.3" stroke="#000" stroke-width="3.4"/><text transform="translate(1145.2,701.2) rotate(-90)" x="0" y="0" font-size="19" text-anchor="middle" textLength="141" lengthAdjust="spacingAndGlyphs">Log2 expression</text><line x1="1223.05" y1="630.7" x2="1223.05" y2="656.2" stroke="#000" stroke-width="3.4"/><line x1="1214.7" y1="630.7" x2="1231.8" y2="630.7" stroke="#000" stroke-width="3.4" stroke-linecap="round"/><line x1="1223.05" y1="729.6" x2="1223.05" y2="802.1" stroke="#000" stroke-width="3.4"/><line x1="1214.7" y1="802.1" x2="1231.8" y2="802.1" stroke="#000" stroke-width="3.4" stroke-linecap="round"/><rect x="1206.2" y="657.9" width="33.7" height="70" fill="#f2c6ec" stroke="#000" stroke-width="3.4"/><line x1="1206.2" y1="687.8" x2="1239.9" y2="687.8" stroke="#000" stroke-width="3.4"/><line x1="1274.1" y1="743.8" x2="1274.1" y2="763.7" stroke="#000" stroke-width="3.4"/><line x1="1265.8" y1="743.8" x2="1282.7" y2="743.8" stroke="#000" stroke-width="3.4" stroke-linecap="round"/><line x1="1274.1" y1="779" x2="1274.1" y2="796.1" stroke="#000" stroke-width="3.4"/><line x1="1265.8" y1="796.1" x2="1282.7" y2="796.1" stroke="#000" stroke-width="3.4" stroke-linecap="round"/><rect x="1257.1" y="765.4" width="34" height="11.9" fill="#f3901a" stroke="#000" stroke-width="3.4"/><line x1="1257.1" y1="766.6" x2="1291.1" y2="766.6" stroke="#000" stroke-width="3.4"/><line x1="1325.15" y1="719.2" x2="1325.15" y2="721.6" stroke="#000" stroke-width="3.4"/><line x1="1317.1" y1="719.2" x2="1333.9" y2="719.2" stroke="#000" stroke-width="3.4" stroke-linecap="round"/><line x1="1325.15" y1="732.3" x2="1325.15" y2="734" stroke="#000" stroke-width="3.4"/><line x1="1317.1" y1="734" x2="1333.9" y2="734" stroke="#000" stroke-width="3.4" stroke-linecap="round"/><rect x="1308" y="723.3" width="34.3" height="7.3" fill="#000" stroke="#000" stroke-width="3.4"/><line x1="1308" y1="727" x2="1342.3" y2="727" stroke="#000" stroke-width="3.4"/><line x1="1376.2" y1="682.6" x2="1376.2" y2="694.9" stroke="#000" stroke-width="3.4"/><line x1="1367.9" y1="682.6" x2="1384.7" y2="682.6" stroke="#000" stroke-width="3.4" stroke-linecap="round"/><line x1="1376.2" y1="710.2" x2="1376.2" y2="745.3" stroke="#000" stroke-width="3.4"/><line x1="1367.9" y1="745.3" x2="1384.7" y2="745.3" stroke="#000" stroke-width="3.4" stroke-linecap="round"/><rect x="1359.2" y="696.6" width="34" height="11.9" fill="#fa2d4e" stroke="#000" stroke-width="3.4"/><line x1="1359.2" y1="697.8" x2="1393.2" y2="697.8" stroke="#000" stroke-width="3.4"/><rect x="1424" y="589.8" width="24" height="12.4" fill="#f2c6ec" stroke="#000" stroke-width="3"/><text x="1460.5" y="601.3" font-size="19.4">HSC</text><rect x="1424" y="621.6" width="24" height="12.5" fill="#f3901a" stroke="#000" stroke-width="3"/><text x="1460.5" y="633.9" font-size="19.4">Monocyte</text><rect x="1424" y="653" width="24" height="12.5" fill="#7352b8" stroke="#000" stroke-width="3"/><text x="1460.5" y="665.5" font-size="19.4">Macrophage</text><rect x="1424" y="684.4" width="24" height="12.7" fill="#fa2d4e" stroke="#000" stroke-width="3"/><text x="1460.5" y="696.4" font-size="19.4">AML</text><text x="744" y="953.3" font-size="42" font-weight="bold">d</text><text x="879.8" y="956.2" font-size="19" textLength="33" lengthAdjust="spacingAndGlyphs">BIK</text><line x1="832.3" y1="984.9" x2="832.3" y2="1208.3" stroke="#000" stroke-width="3.8"/><line x1="825.5" y1="986.8" x2="834.2" y2="986.8" stroke="#000" stroke-width="3.8"/><text x="816.7" y="992.7" font-size="19.5" text-anchor="end">2.0</text><line x1="825.5" y1="1041.7" x2="834.2" y2="1041.7" stroke="#000" stroke-width="3.8"/><text x="816.7" y="1047.6" font-size="19.5" text-anchor="end">1.5</text><line x1="825.5" y1="1096.6" x2="834.2" y2="1096.6" stroke="#000" stroke-width="3.8"/><text x="816.7" y="1102.5" font-size="19.5" text-anchor="end">1.0</text><line x1="825.5" y1="1151.5" x2="834.2" y2="1151.5" stroke="#000" stroke-width="3.8"/><text x="816.7" y="1157.4" font-size="19.5" text-anchor="end">0.5</text><line x1="825.5" y1="1206.4" x2="834.2" y2="1206.4" stroke="#000" stroke-width="3.8"/><text x="816.7" y="1212.3" font-size="19.5" text-anchor="end">0.0</text><line x1="825.3" y1="1206.4" x2="994.5" y2="1206.4" stroke="#000" stroke-width="3.8"/><text transform="translate(774.6,1097.2) rotate(-90)" x="0" y="0" font-size="19" text-anchor="middle" textLength="167.5" lengthAdjust="spacingAndGlyphs">Relative expression</text><rect x="847.3" y="1097.1" width="30.7" height="109.3" fill="#000"/><rect x="894" y="1133.3" width="31.1" height="73.1" fill="#adadaf"/><rect x="941.1" y="1169" width="30.9" height="37.4" fill="#00a4a7"/><circle cx="862.8" cy="1045.5" r="2.5" fill="#f74ff2"/><circle cx="862.8" cy="1063" r="2.5" fill="#f74ff2"/><circle cx="862.8" cy="1073" r="2.5" fill="#f74ff2"/><circle cx="871.5" cy="1087.9" r="2.5" fill="#f74ff2"/><circle cx="854" cy="1092.2" r="2.5" fill="#f74ff2"/><circle cx="862.8" cy="1092.2" r="2.5" fill="#f74ff2"/><circle cx="871.5" cy="1095.9" r="2.5" fill="#f74ff2"/><circle cx="862.8" cy="1102.1" r="2.5" fill="#f74ff2"/><circle cx="854" cy="1105.9" r="2.5" fill="#f74ff2"/><circle cx="871.5" cy="1105.9" r="2.5" fill="#f74ff2"/><circle cx="862.8" cy="1109.1" r="2.5" fill="#f74ff2"/><circle cx="862.8" cy="1115.9" r="2.5" fill="#f74ff2"/><circle cx="862.8" cy="1125.8" r="2.5" fill="#f74ff2"/><circle cx="862.8" cy="1146.3" r="2.5" fill="#f74ff2"/><circle cx="905.2" cy="1072.2" r="2.5" fill="#f74ff2"/><circle cx="913.9" cy="1074.7" r="2.5" fill="#f74ff2"/><circle cx="909.7" cy="1079.7" r="2.5" fill="#f74ff2"/><circle cx="909.7" cy="1090.2" r="2.5" fill="#f74ff2"/><circle cx="918.4" cy="1094.7" r="2.5" fill="#f74ff2"/><circle cx="900.9" cy="1098.9" r="2.5" fill="#f74ff2"/><circle cx="918.4" cy="1101.4" r="2.5" fill="#f74ff2"/><circle cx="900.9" cy="1127.1" r="2.5" fill="#f74ff2"/><circle cx="909.7" cy="1127.1" r="2.5" fill="#f74ff2"/><circle cx="918.4" cy="1127.1" r="2.5" fill="#f74ff2"/><circle cx="909.7" cy="1132.1" r="2.5" fill="#f74ff2"/><circle cx="909.7" cy="1136.6" r="2.5" fill="#f74ff2"/><circle cx="909.7" cy="1152.5" r="2.5" fill="#f74ff2"/><circle cx="905.2" cy="1167" r="2.5" fill="#f74ff2"/><circle cx="913.9" cy="1167" r="2.5" fill="#f74ff2"/><circle cx="909.7" cy="1172" r="2.5" fill="#f74ff2"/><circle cx="900.9" cy="1182.5" r="2.5" fill="#f74ff2"/><circle cx="918.4" cy="1184.5" r="2.5" fill="#f74ff2"/><circle cx="909.7" cy="1186.5" r="2.5" fill="#f74ff2"/><circle cx="909.7" cy="1198.9" r="2.5" fill="#f74ff2"/><circle cx="956" cy="1149" r="2.5" fill="#f74ff2"/><circle cx="956" cy="1155.8" r="2.5" fill="#f74ff2"/><circle cx="956" cy="1165" r="2.5" fill="#f74ff2"/><circle cx="951.8" cy="1177" r="2.5" fill="#f74ff2"/><circle cx="960.6" cy="1178.2" r="2.5" fill="#f74ff2"/><circle cx="956" cy="1190.2" r="2.5" fill="#f74ff2"/><path d="M862.8,994.9 L862.8,986.1 L956,986.1 L956,1083.4" fill="none" stroke="#000" stroke-width="1.8"/><text x="873.2" y="979.9" font-size="14.5" textLength="72.8" lengthAdjust="spacingAndGlyphs"><tspan font-style="italic">p</tspan> = 0.0002</text><path d="M862.8,1032.3 L862.8,1020.5 L909.7,1020.5 L909.7,1063.5" fill="none" stroke="#000" stroke-width="1.8"/><text x="850.2" y="1016" font-size="14.5" textLength="72.8" lengthAdjust="spacingAndGlyphs"><tspan font-style="italic">p</tspan> = 0.0067</text><text x="972.3" y="969.9" font-size="19" textLength="122.7" lengthAdjust="spacingAndGlyphs">Ch22-LTR13A</text><rect x="987" y="980.6" width="28.2" height="16.2" fill="#000"/><text x="1025.6" y="994.4" font-size="19">(+/+)</text><rect x="987" y="1012.8" width="28.2" height="16.5" fill="#adadaf"/><text x="1025.6" y="1026.8" font-size="19">(+/–)</text><rect x="987" y="1045.2" width="28.2" height="16.5" fill="#00a4a7"/><text x="1025.6" y="1059.2" font-size="19">(–/–)</text><text x="1285.9" y="964.5" font-size="19" textLength="32.3" lengthAdjust="spacingAndGlyphs">BIK</text><line x1="1191.8" y1="980.15" x2="1191.8" y2="1209.25" stroke="#000" stroke-width="3.3"/><line x1="1182.5" y1="981.8" x2="1193.45" y2="981.8" stroke="#000" stroke-width="3.3"/><text x="1173.1" y="988.3" font-size="19" text-anchor="end">5</text><line x1="1182.5" y1="1068.8" x2="1193.45" y2="1068.8" stroke="#000" stroke-width="3.3"/><text x="1173.1" y="1075.3" font-size="19" text-anchor="end">0</text><line x1="1182.5" y1="1155.8" x2="1193.45" y2="1155.8" stroke="#000" stroke-width="3.3"/><text x="1173.1" y="1162.3" font-size="19" text-anchor="end">−5</text><line x1="1190.2" y1="1207.6" x2="1402.7" y2="1207.6" stroke="#000" stroke-width="3.4"/><text transform="translate(1134.3,1094.5) rotate(-90)" x="0" y="0" font-size="19" text-anchor="middle" textLength="143" lengthAdjust="spacingAndGlyphs">Log2 Expression</text><line x1="1225.25" y1="1100" x2="1225.25" y2="1163.2" stroke="#000" stroke-width="3.4"/><line x1="1216.6" y1="1100" x2="1233.5" y2="1100" stroke="#000" stroke-width="3.4" stroke-linecap="round"/><rect x="1208.2" y="1164.9" width="34.1" height="19.4" fill="#f2c6ec" stroke="#000" stroke-width="3.4"/><line x1="1208.2" y1="1182.6" x2="1242.3" y2="1182.6" stroke="#000" stroke-width="3.4"/><line x1="1275.75" y1="1072.1" x2="1275.75" y2="1079.2" stroke="#000" stroke-width="3.4"/><line x1="1267.7" y1="1072.1" x2="1284.2" y2="1072.1" stroke="#000" stroke-width="3.4" stroke-linecap="round"/><line x1="1275.75" y1="1104" x2="1275.75" y2="1129.4" stroke="#000" stroke-width="3.4"/><line x1="1267.7" y1="1129.4" x2="1284.2" y2="1129.4" stroke="#000" stroke-width="3.4" stroke-linecap="round"/><rect x="1258.9" y="1080.9" width="33.7" height="21.4" fill="#f3901a" stroke="#000" stroke-width="3.4"/><line x1="1258.9" y1="1096.4" x2="1292.6" y2="1096.4" stroke="#000" stroke-width="3.4"/><line x1="1326.6" y1="1096.9" x2="1326.6" y2="1101.8" stroke="#000" stroke-width="3.4"/><line x1="1318.3" y1="1096.9" x2="1334.9" y2="1096.9" stroke="#000" stroke-width="3.4" stroke-linecap="round"/><line x1="1326.6" y1="1142.9" x2="1326.6" y2="1184.3" stroke="#000" stroke-width="3.4"/><line x1="1318.3" y1="1184.3" x2="1334.9" y2="1184.3" stroke="#000" stroke-width="3.4" stroke-linecap="round"/><rect x="1309.9" y="1103.5" width="33.4" height="37.7" fill="#7352b8" stroke="#000" stroke-width="3.4"/><line x1="1309.9" y1="1114.3" x2="1343.3" y2="1114.3" stroke="#000" stroke-width="3.4"/><line x1="1377.45" y1="1001.4" x2="1377.45" y2="1015.8" stroke="#000" stroke-width="3.4"/><line x1="1369" y1="1001.4" x2="1385.9" y2="1001.4" stroke="#000" stroke-width="3.4" stroke-linecap="round"/><line x1="1377.45" y1="1077" x2="1377.45" y2="1184.3" stroke="#000" stroke-width="3.4"/><line x1="1369" y1="1184.3" x2="1385.9" y2="1184.3" stroke="#000" stroke-width="3.4" stroke-linecap="round"/><rect x="1360.6" y="1017.5" width="33.7" height="57.8" fill="#fa2d4e" stroke="#000" stroke-width="3.4"/><line x1="1360.6" y1="1040.8" x2="1394.3" y2="1040.8" stroke="#000" stroke-width="3.4"/><rect x="1430.9" y="959.5" width="22.8" height="12" fill="#f2c6ec" stroke="#000" stroke-width="3"/><text x="1467.7" y="970.8" font-size="19.4">HSC</text><rect x="1430.9" y="991.5" width="22.8" height="12" fill="#f3901a" stroke="#000" stroke-width="3"/><text x="1467.7" y="1003.8" font-size="19.4">Monocyte</text><rect x="1430.9" y="1022.8" width="22.8" height="12.5" fill="#7352b8" stroke="#000" stroke-width="3"/><text x="1467.7" y="1035.1" font-size="19.4">Macrophage</text><rect x="1430.9" y="1054.5" width="22.8" height="12" fill="#fa2d4e" stroke="#000" stroke-width="3"/><text x="1467.7" y="1066.3" font-size="19.4">AML</text>
</svg>
</body></html>
